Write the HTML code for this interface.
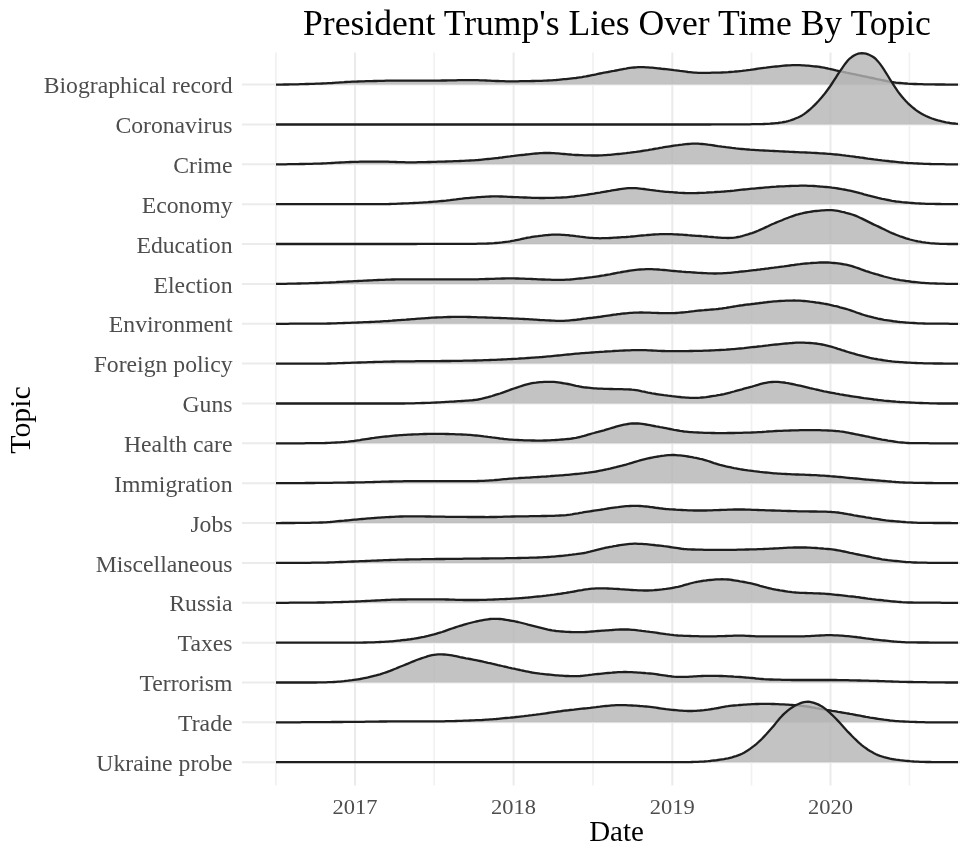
<!DOCTYPE html>
<html><head><meta charset="utf-8"><style>
html,body{margin:0;padding:0;background:#fff;width:960px;height:859px;overflow:hidden}
svg{display:block;will-change:transform}
text{font-family:"Liberation Serif",serif}
</style></head><body>
<svg width="960" height="859" viewBox="0 0 960 859">
<rect width="960" height="859" fill="#fff"/>
<g>
<g stroke="#ebebeb" stroke-width="2"><line x1="242" y1="84.60" x2="960" y2="84.60"/><line x1="242" y1="124.46" x2="960" y2="124.46"/><line x1="242" y1="164.32" x2="960" y2="164.32"/><line x1="242" y1="204.18" x2="960" y2="204.18"/><line x1="242" y1="244.04" x2="960" y2="244.04"/><line x1="242" y1="283.90" x2="960" y2="283.90"/><line x1="242" y1="323.76" x2="960" y2="323.76"/><line x1="242" y1="363.62" x2="960" y2="363.62"/><line x1="242" y1="403.48" x2="960" y2="403.48"/><line x1="242" y1="443.34" x2="960" y2="443.34"/><line x1="242" y1="483.20" x2="960" y2="483.20"/><line x1="242" y1="523.06" x2="960" y2="523.06"/><line x1="242" y1="562.92" x2="960" y2="562.92"/><line x1="242" y1="602.78" x2="960" y2="602.78"/><line x1="242" y1="642.64" x2="960" y2="642.64"/><line x1="242" y1="682.50" x2="960" y2="682.50"/><line x1="242" y1="722.36" x2="960" y2="722.36"/><line x1="242" y1="762.22" x2="960" y2="762.22"/><line x1="355.0" y1="52.5" x2="355.0" y2="785.5"/><line x1="513.6" y1="52.5" x2="513.6" y2="785.5"/><line x1="672.3" y1="52.5" x2="672.3" y2="785.5"/><line x1="830.5" y1="52.5" x2="830.5" y2="785.5"/></g>
<g stroke="#f1f1f1" stroke-width="1.7"><line x1="275.9" y1="52.5" x2="275.9" y2="785.5"/><line x1="434.2" y1="52.5" x2="434.2" y2="785.5"/><line x1="593.0" y1="52.5" x2="593.0" y2="785.5"/><line x1="751.5" y1="52.5" x2="751.5" y2="785.5"/><line x1="909.4" y1="52.5" x2="909.4" y2="785.5"/></g>
<path d="M276.0,84.60 L276,84.6 278,84.6 280,84.6 282,84.6 284,84.5 286,84.5 288,84.5 290,84.4 292,84.4 294,84.4 296,84.3 298,84.3 300,84.2 302,84.2 304,84.1 306,84.0 308,84.0 310,83.9 312,83.9 314,83.8 316,83.7 318,83.7 320,83.6 322,83.5 324,83.4 326,83.3 328,83.2 330,83.1 332,83.0 334,82.8 336,82.7 338,82.6 340,82.4 342,82.3 344,82.2 346,82.0 348,81.9 350,81.8 352,81.7 354,81.6 356,81.6 358,81.5 360,81.4 362,81.4 364,81.3 366,81.2 368,81.2 370,81.1 372,81.1 374,81.0 376,81.0 378,80.9 380,80.9 382,80.8 384,80.8 386,80.7 388,80.7 390,80.7 392,80.7 394,80.6 396,80.6 398,80.6 400,80.6 402,80.6 404,80.6 406,80.6 408,80.6 410,80.6 412,80.6 414,80.6 416,80.6 418,80.6 420,80.6 422,80.6 424,80.6 426,80.6 428,80.6 430,80.6 432,80.6 434,80.6 436,80.6 438,80.6 440,80.6 442,80.5 444,80.5 446,80.5 448,80.4 450,80.4 452,80.4 454,80.3 456,80.3 458,80.2 460,80.2 462,80.2 464,80.1 466,80.1 468,80.1 470,80.1 472,80.1 474,80.1 476,80.2 478,80.2 480,80.3 482,80.4 484,80.4 486,80.5 488,80.6 490,80.7 492,80.8 494,80.9 496,81.0 498,81.0 500,81.1 502,81.2 504,81.2 506,81.3 508,81.3 510,81.3 512,81.3 514,81.3 516,81.3 518,81.3 520,81.2 522,81.2 524,81.2 526,81.1 528,81.1 530,81.1 532,81.0 534,81.0 536,80.9 538,80.9 540,80.8 542,80.8 544,80.7 546,80.6 548,80.5 550,80.4 552,80.3 554,80.1 556,80.0 558,79.8 560,79.6 562,79.4 564,79.2 566,79.1 568,78.8 570,78.6 572,78.4 574,78.2 576,78.0 578,77.7 580,77.4 582,77.1 584,76.7 586,76.4 588,76.0 590,75.6 592,75.2 594,74.8 596,74.4 598,73.9 600,73.5 602,73.1 604,72.7 606,72.3 608,72.0 610,71.6 612,71.2 614,70.9 616,70.5 618,70.1 620,69.7 622,69.3 624,68.9 626,68.6 628,68.2 630,67.9 632,67.7 634,67.5 636,67.3 638,67.2 640,67.2 642,67.2 644,67.2 646,67.3 648,67.4 650,67.6 652,67.7 654,67.9 656,68.1 658,68.3 660,68.5 662,68.8 664,69.0 666,69.2 668,69.4 670,69.6 672,69.8 674,70.1 676,70.3 678,70.6 680,70.9 682,71.1 684,71.4 686,71.7 688,72.0 690,72.2 692,72.4 694,72.6 696,72.7 698,72.8 700,72.8 702,72.8 704,72.8 706,72.8 708,72.8 710,72.8 712,72.7 714,72.7 716,72.7 718,72.6 720,72.6 722,72.5 724,72.4 726,72.3 728,72.2 730,72.0 732,71.8 734,71.7 736,71.5 738,71.3 740,71.1 742,70.9 744,70.6 746,70.4 748,70.1 750,69.9 752,69.6 754,69.3 756,69.0 758,68.7 760,68.4 762,68.1 764,67.8 766,67.6 768,67.3 770,67.1 772,66.9 774,66.7 776,66.5 778,66.3 780,66.1 782,65.9 784,65.7 786,65.5 788,65.4 790,65.3 792,65.2 794,65.1 796,65.1 798,65.2 800,65.2 802,65.3 804,65.4 806,65.6 808,65.7 810,65.9 812,66.1 814,66.3 816,66.5 818,66.7 820,67.0 822,67.3 824,67.7 826,68.1 828,68.5 830,69.0 832,69.4 834,69.9 836,70.4 838,70.8 840,71.3 842,71.7 844,72.1 846,72.5 848,73.0 850,73.4 852,73.8 854,74.2 856,74.6 858,75.0 860,75.5 862,75.9 864,76.3 866,76.7 868,77.2 870,77.6 872,78.0 874,78.4 876,78.9 878,79.3 880,79.7 882,80.1 884,80.5 886,80.9 888,81.3 890,81.6 892,82.0 894,82.3 896,82.6 898,82.8 900,83.0 902,83.2 904,83.4 906,83.5 908,83.7 910,83.8 912,83.9 914,84.0 916,84.0 918,84.1 920,84.2 922,84.2 924,84.3 926,84.3 928,84.4 930,84.4 932,84.4 934,84.4 936,84.5 938,84.5 940,84.5 942,84.5 944,84.5 946,84.6 948,84.6 950,84.6 952,84.6 954,84.6 956,84.6 958,84.6 L957.5,84.60 Z" fill="#b4b4b4" fill-opacity="0.8" stroke="none"/>
<path d="M276,84.6 278,84.6 280,84.6 282,84.6 284,84.5 286,84.5 288,84.5 290,84.4 292,84.4 294,84.4 296,84.3 298,84.3 300,84.2 302,84.2 304,84.1 306,84.0 308,84.0 310,83.9 312,83.9 314,83.8 316,83.7 318,83.7 320,83.6 322,83.5 324,83.4 326,83.3 328,83.2 330,83.1 332,83.0 334,82.8 336,82.7 338,82.6 340,82.4 342,82.3 344,82.2 346,82.0 348,81.9 350,81.8 352,81.7 354,81.6 356,81.6 358,81.5 360,81.4 362,81.4 364,81.3 366,81.2 368,81.2 370,81.1 372,81.1 374,81.0 376,81.0 378,80.9 380,80.9 382,80.8 384,80.8 386,80.7 388,80.7 390,80.7 392,80.7 394,80.6 396,80.6 398,80.6 400,80.6 402,80.6 404,80.6 406,80.6 408,80.6 410,80.6 412,80.6 414,80.6 416,80.6 418,80.6 420,80.6 422,80.6 424,80.6 426,80.6 428,80.6 430,80.6 432,80.6 434,80.6 436,80.6 438,80.6 440,80.6 442,80.5 444,80.5 446,80.5 448,80.4 450,80.4 452,80.4 454,80.3 456,80.3 458,80.2 460,80.2 462,80.2 464,80.1 466,80.1 468,80.1 470,80.1 472,80.1 474,80.1 476,80.2 478,80.2 480,80.3 482,80.4 484,80.4 486,80.5 488,80.6 490,80.7 492,80.8 494,80.9 496,81.0 498,81.0 500,81.1 502,81.2 504,81.2 506,81.3 508,81.3 510,81.3 512,81.3 514,81.3 516,81.3 518,81.3 520,81.2 522,81.2 524,81.2 526,81.1 528,81.1 530,81.1 532,81.0 534,81.0 536,80.9 538,80.9 540,80.8 542,80.8 544,80.7 546,80.6 548,80.5 550,80.4 552,80.3 554,80.1 556,80.0 558,79.8 560,79.6 562,79.4 564,79.2 566,79.1 568,78.8 570,78.6 572,78.4 574,78.2 576,78.0 578,77.7 580,77.4 582,77.1 584,76.7 586,76.4 588,76.0 590,75.6 592,75.2 594,74.8 596,74.4 598,73.9 600,73.5 602,73.1 604,72.7 606,72.3 608,72.0 610,71.6 612,71.2 614,70.9 616,70.5 618,70.1 620,69.7 622,69.3 624,68.9 626,68.6 628,68.2 630,67.9 632,67.7 634,67.5 636,67.3 638,67.2 640,67.2 642,67.2 644,67.2 646,67.3 648,67.4 650,67.6 652,67.7 654,67.9 656,68.1 658,68.3 660,68.5 662,68.8 664,69.0 666,69.2 668,69.4 670,69.6 672,69.8 674,70.1 676,70.3 678,70.6 680,70.9 682,71.1 684,71.4 686,71.7 688,72.0 690,72.2 692,72.4 694,72.6 696,72.7 698,72.8 700,72.8 702,72.8 704,72.8 706,72.8 708,72.8 710,72.8 712,72.7 714,72.7 716,72.7 718,72.6 720,72.6 722,72.5 724,72.4 726,72.3 728,72.2 730,72.0 732,71.8 734,71.7 736,71.5 738,71.3 740,71.1 742,70.9 744,70.6 746,70.4 748,70.1 750,69.9 752,69.6 754,69.3 756,69.0 758,68.7 760,68.4 762,68.1 764,67.8 766,67.6 768,67.3 770,67.1 772,66.9 774,66.7 776,66.5 778,66.3 780,66.1 782,65.9 784,65.7 786,65.5 788,65.4 790,65.3 792,65.2 794,65.1 796,65.1 798,65.2 800,65.2 802,65.3 804,65.4 806,65.6 808,65.7 810,65.9 812,66.1 814,66.3 816,66.5 818,66.7 820,67.0 822,67.3 824,67.7 826,68.1 828,68.5 830,69.0 832,69.4 834,69.9 836,70.4 838,70.8 840,71.3 842,71.7 844,72.1 846,72.5 848,73.0 850,73.4 852,73.8 854,74.2 856,74.6 858,75.0 860,75.5 862,75.9 864,76.3 866,76.7 868,77.2 870,77.6 872,78.0 874,78.4 876,78.9 878,79.3 880,79.7 882,80.1 884,80.5 886,80.9 888,81.3 890,81.6 892,82.0 894,82.3 896,82.6 898,82.8 900,83.0 902,83.2 904,83.4 906,83.5 908,83.7 910,83.8 912,83.9 914,84.0 916,84.0 918,84.1 920,84.2 922,84.2 924,84.3 926,84.3 928,84.4 930,84.4 932,84.4 934,84.4 936,84.5 938,84.5 940,84.5 942,84.5 944,84.5 946,84.6 948,84.6 950,84.6 952,84.6 954,84.6 956,84.6 958,84.6" fill="none" stroke="#1e1e1e" stroke-width="2.3" stroke-linejoin="round"/>
<path d="M276.0,124.46 L276,124.5 278,124.5 280,124.5 282,124.5 284,124.5 286,124.5 288,124.5 290,124.5 292,124.5 294,124.5 296,124.5 298,124.5 300,124.5 302,124.5 304,124.5 306,124.5 308,124.5 310,124.5 312,124.5 314,124.5 316,124.5 318,124.5 320,124.5 322,124.5 324,124.5 326,124.5 328,124.5 330,124.5 332,124.5 334,124.5 336,124.5 338,124.5 340,124.5 342,124.5 344,124.5 346,124.5 348,124.5 350,124.5 352,124.5 354,124.5 356,124.5 358,124.5 360,124.5 362,124.5 364,124.5 366,124.5 368,124.5 370,124.5 372,124.5 374,124.5 376,124.5 378,124.5 380,124.5 382,124.5 384,124.5 386,124.5 388,124.5 390,124.5 392,124.5 394,124.5 396,124.5 398,124.5 400,124.5 402,124.5 404,124.5 406,124.5 408,124.5 410,124.5 412,124.5 414,124.5 416,124.5 418,124.5 420,124.5 422,124.5 424,124.5 426,124.5 428,124.5 430,124.5 432,124.5 434,124.5 436,124.5 438,124.5 440,124.5 442,124.5 444,124.5 446,124.5 448,124.5 450,124.5 452,124.5 454,124.5 456,124.5 458,124.5 460,124.5 462,124.5 464,124.5 466,124.5 468,124.5 470,124.5 472,124.5 474,124.5 476,124.5 478,124.5 480,124.5 482,124.5 484,124.5 486,124.5 488,124.5 490,124.5 492,124.5 494,124.5 496,124.5 498,124.5 500,124.5 502,124.5 504,124.5 506,124.5 508,124.5 510,124.5 512,124.5 514,124.5 516,124.5 518,124.5 520,124.5 522,124.5 524,124.5 526,124.5 528,124.5 530,124.5 532,124.5 534,124.5 536,124.5 538,124.5 540,124.5 542,124.5 544,124.5 546,124.5 548,124.5 550,124.5 552,124.5 554,124.5 556,124.5 558,124.5 560,124.5 562,124.5 564,124.5 566,124.5 568,124.5 570,124.5 572,124.5 574,124.5 576,124.5 578,124.5 580,124.5 582,124.5 584,124.5 586,124.5 588,124.5 590,124.5 592,124.5 594,124.5 596,124.5 598,124.5 600,124.5 602,124.5 604,124.5 606,124.5 608,124.5 610,124.5 612,124.5 614,124.5 616,124.5 618,124.5 620,124.5 622,124.5 624,124.5 626,124.5 628,124.5 630,124.5 632,124.5 634,124.5 636,124.5 638,124.5 640,124.5 642,124.5 644,124.5 646,124.5 648,124.5 650,124.5 652,124.5 654,124.5 656,124.5 658,124.5 660,124.5 662,124.5 664,124.5 666,124.5 668,124.5 670,124.5 672,124.5 674,124.5 676,124.5 678,124.5 680,124.5 682,124.5 684,124.5 686,124.5 688,124.5 690,124.5 692,124.5 694,124.5 696,124.5 698,124.5 700,124.5 702,124.5 704,124.5 706,124.5 708,124.5 710,124.5 712,124.4 714,124.4 716,124.4 718,124.4 720,124.4 722,124.4 724,124.4 726,124.4 728,124.4 730,124.4 732,124.4 734,124.4 736,124.4 738,124.3 740,124.3 742,124.3 744,124.3 746,124.3 748,124.3 750,124.3 752,124.2 754,124.2 756,124.2 758,124.2 760,124.1 762,124.1 764,124.0 766,123.9 768,123.8 770,123.7 772,123.5 774,123.4 776,123.2 778,123.0 780,122.7 782,122.4 784,122.0 786,121.6 788,121.1 790,120.5 792,119.8 794,119.1 796,118.3 798,117.5 800,116.5 802,115.4 804,114.1 806,112.6 808,111.0 810,109.3 812,107.5 814,105.6 816,103.6 818,101.5 820,99.3 822,97.0 824,94.6 826,92.0 828,89.3 830,86.5 832,83.5 834,80.4 836,77.3 838,74.2 840,71.2 842,68.3 844,65.4 846,62.7 848,60.3 850,58.3 852,56.8 854,55.5 856,54.5 858,53.7 860,53.3 862,53.1 864,53.3 866,53.7 868,54.3 870,55.2 872,56.2 874,57.5 876,59.2 878,61.4 880,63.9 882,66.7 884,69.7 886,72.8 888,76.0 890,79.3 892,82.5 894,85.7 896,88.7 898,91.6 900,94.2 902,96.7 904,99.1 906,101.3 908,103.3 910,105.1 912,106.9 914,108.5 916,110.1 918,111.5 920,112.8 922,113.9 924,115.0 926,116.0 928,116.9 930,117.7 932,118.5 934,119.2 936,119.8 938,120.4 940,120.9 942,121.4 944,121.8 946,122.3 948,122.6 950,123.0 952,123.3 954,123.5 956,123.7 958,123.8 L957.5,124.46 Z" fill="#b4b4b4" fill-opacity="0.8" stroke="none"/>
<path d="M276,124.5 278,124.5 280,124.5 282,124.5 284,124.5 286,124.5 288,124.5 290,124.5 292,124.5 294,124.5 296,124.5 298,124.5 300,124.5 302,124.5 304,124.5 306,124.5 308,124.5 310,124.5 312,124.5 314,124.5 316,124.5 318,124.5 320,124.5 322,124.5 324,124.5 326,124.5 328,124.5 330,124.5 332,124.5 334,124.5 336,124.5 338,124.5 340,124.5 342,124.5 344,124.5 346,124.5 348,124.5 350,124.5 352,124.5 354,124.5 356,124.5 358,124.5 360,124.5 362,124.5 364,124.5 366,124.5 368,124.5 370,124.5 372,124.5 374,124.5 376,124.5 378,124.5 380,124.5 382,124.5 384,124.5 386,124.5 388,124.5 390,124.5 392,124.5 394,124.5 396,124.5 398,124.5 400,124.5 402,124.5 404,124.5 406,124.5 408,124.5 410,124.5 412,124.5 414,124.5 416,124.5 418,124.5 420,124.5 422,124.5 424,124.5 426,124.5 428,124.5 430,124.5 432,124.5 434,124.5 436,124.5 438,124.5 440,124.5 442,124.5 444,124.5 446,124.5 448,124.5 450,124.5 452,124.5 454,124.5 456,124.5 458,124.5 460,124.5 462,124.5 464,124.5 466,124.5 468,124.5 470,124.5 472,124.5 474,124.5 476,124.5 478,124.5 480,124.5 482,124.5 484,124.5 486,124.5 488,124.5 490,124.5 492,124.5 494,124.5 496,124.5 498,124.5 500,124.5 502,124.5 504,124.5 506,124.5 508,124.5 510,124.5 512,124.5 514,124.5 516,124.5 518,124.5 520,124.5 522,124.5 524,124.5 526,124.5 528,124.5 530,124.5 532,124.5 534,124.5 536,124.5 538,124.5 540,124.5 542,124.5 544,124.5 546,124.5 548,124.5 550,124.5 552,124.5 554,124.5 556,124.5 558,124.5 560,124.5 562,124.5 564,124.5 566,124.5 568,124.5 570,124.5 572,124.5 574,124.5 576,124.5 578,124.5 580,124.5 582,124.5 584,124.5 586,124.5 588,124.5 590,124.5 592,124.5 594,124.5 596,124.5 598,124.5 600,124.5 602,124.5 604,124.5 606,124.5 608,124.5 610,124.5 612,124.5 614,124.5 616,124.5 618,124.5 620,124.5 622,124.5 624,124.5 626,124.5 628,124.5 630,124.5 632,124.5 634,124.5 636,124.5 638,124.5 640,124.5 642,124.5 644,124.5 646,124.5 648,124.5 650,124.5 652,124.5 654,124.5 656,124.5 658,124.5 660,124.5 662,124.5 664,124.5 666,124.5 668,124.5 670,124.5 672,124.5 674,124.5 676,124.5 678,124.5 680,124.5 682,124.5 684,124.5 686,124.5 688,124.5 690,124.5 692,124.5 694,124.5 696,124.5 698,124.5 700,124.5 702,124.5 704,124.5 706,124.5 708,124.5 710,124.5 712,124.4 714,124.4 716,124.4 718,124.4 720,124.4 722,124.4 724,124.4 726,124.4 728,124.4 730,124.4 732,124.4 734,124.4 736,124.4 738,124.3 740,124.3 742,124.3 744,124.3 746,124.3 748,124.3 750,124.3 752,124.2 754,124.2 756,124.2 758,124.2 760,124.1 762,124.1 764,124.0 766,123.9 768,123.8 770,123.7 772,123.5 774,123.4 776,123.2 778,123.0 780,122.7 782,122.4 784,122.0 786,121.6 788,121.1 790,120.5 792,119.8 794,119.1 796,118.3 798,117.5 800,116.5 802,115.4 804,114.1 806,112.6 808,111.0 810,109.3 812,107.5 814,105.6 816,103.6 818,101.5 820,99.3 822,97.0 824,94.6 826,92.0 828,89.3 830,86.5 832,83.5 834,80.4 836,77.3 838,74.2 840,71.2 842,68.3 844,65.4 846,62.7 848,60.3 850,58.3 852,56.8 854,55.5 856,54.5 858,53.7 860,53.3 862,53.1 864,53.3 866,53.7 868,54.3 870,55.2 872,56.2 874,57.5 876,59.2 878,61.4 880,63.9 882,66.7 884,69.7 886,72.8 888,76.0 890,79.3 892,82.5 894,85.7 896,88.7 898,91.6 900,94.2 902,96.7 904,99.1 906,101.3 908,103.3 910,105.1 912,106.9 914,108.5 916,110.1 918,111.5 920,112.8 922,113.9 924,115.0 926,116.0 928,116.9 930,117.7 932,118.5 934,119.2 936,119.8 938,120.4 940,120.9 942,121.4 944,121.8 946,122.3 948,122.6 950,123.0 952,123.3 954,123.5 956,123.7 958,123.8" fill="none" stroke="#1e1e1e" stroke-width="2.3" stroke-linejoin="round"/>
<path d="M276.0,164.32 L276,164.3 278,164.3 280,164.3 282,164.3 284,164.3 286,164.3 288,164.2 290,164.2 292,164.2 294,164.2 296,164.1 298,164.1 300,164.0 302,164.0 304,164.0 306,163.9 308,163.9 310,163.8 312,163.8 314,163.7 316,163.7 318,163.6 320,163.6 322,163.5 324,163.4 326,163.3 328,163.2 330,163.1 332,163.0 334,162.9 336,162.7 338,162.6 340,162.5 342,162.4 344,162.3 346,162.2 348,162.1 350,162.0 352,161.9 354,161.9 356,161.8 358,161.8 360,161.7 362,161.7 364,161.7 366,161.7 368,161.6 370,161.6 372,161.6 374,161.6 376,161.6 378,161.6 380,161.6 382,161.6 384,161.6 386,161.7 388,161.7 390,161.8 392,161.8 394,161.9 396,162.0 398,162.1 400,162.1 402,162.2 404,162.2 406,162.3 408,162.3 410,162.3 412,162.3 414,162.3 416,162.3 418,162.2 420,162.2 422,162.2 424,162.1 426,162.1 428,162.0 430,162.0 432,161.9 434,161.8 436,161.8 438,161.7 440,161.7 442,161.6 444,161.6 446,161.5 448,161.4 450,161.4 452,161.3 454,161.2 456,161.2 458,161.1 460,161.0 462,160.9 464,160.8 466,160.7 468,160.6 470,160.5 472,160.4 474,160.3 476,160.1 478,160.0 480,159.8 482,159.6 484,159.4 486,159.2 488,159.0 490,158.8 492,158.6 494,158.4 496,158.2 498,158.0 500,157.7 502,157.5 504,157.2 506,156.9 508,156.6 510,156.4 512,156.1 514,155.9 516,155.6 518,155.4 520,155.2 522,155.0 524,154.8 526,154.5 528,154.3 530,154.1 532,153.9 534,153.7 536,153.5 538,153.4 540,153.2 542,153.1 544,153.0 546,153.0 548,153.0 550,153.0 552,153.1 554,153.2 556,153.3 558,153.4 560,153.6 562,153.8 564,154.0 566,154.2 568,154.4 570,154.5 572,154.7 574,154.8 576,155.0 578,155.0 580,155.1 582,155.2 584,155.3 586,155.3 588,155.4 590,155.4 592,155.5 594,155.5 596,155.5 598,155.5 600,155.4 602,155.3 604,155.2 606,155.1 608,154.9 610,154.8 612,154.6 614,154.4 616,154.2 618,154.0 620,153.8 622,153.6 624,153.4 626,153.2 628,152.9 630,152.7 632,152.4 634,152.1 636,151.9 638,151.6 640,151.3 642,151.0 644,150.7 646,150.4 648,150.1 650,149.7 652,149.4 654,149.0 656,148.6 658,148.3 660,147.9 662,147.6 664,147.2 666,146.9 668,146.6 670,146.3 672,146.0 674,145.7 676,145.4 678,145.2 680,144.9 682,144.7 684,144.4 686,144.2 688,144.0 690,143.8 692,143.7 694,143.6 696,143.6 698,143.7 700,143.8 702,144.0 704,144.2 706,144.4 708,144.7 710,144.9 712,145.2 714,145.5 716,145.8 718,146.1 720,146.3 722,146.6 724,146.8 726,147.1 728,147.3 730,147.6 732,147.9 734,148.1 736,148.4 738,148.6 740,148.8 742,149.0 744,149.2 746,149.4 748,149.5 750,149.7 752,149.8 754,149.9 756,150.1 758,150.2 760,150.3 762,150.4 764,150.5 766,150.6 768,150.7 770,150.8 772,150.9 774,151.0 776,151.1 778,151.2 780,151.3 782,151.4 784,151.5 786,151.6 788,151.7 790,151.8 792,151.9 794,152.0 796,152.1 798,152.2 800,152.3 802,152.4 804,152.4 806,152.5 808,152.6 810,152.7 812,152.8 814,152.9 816,153.0 818,153.1 820,153.3 822,153.4 824,153.5 826,153.6 828,153.8 830,153.9 832,154.1 834,154.3 836,154.5 838,154.7 840,154.9 842,155.2 844,155.4 846,155.7 848,155.9 850,156.2 852,156.4 854,156.7 856,157.0 858,157.2 860,157.5 862,157.7 864,158.0 866,158.3 868,158.6 870,158.8 872,159.1 874,159.4 876,159.6 878,159.9 880,160.1 882,160.4 884,160.6 886,160.8 888,161.0 890,161.3 892,161.5 894,161.7 896,161.9 898,162.1 900,162.3 902,162.5 904,162.7 906,162.8 908,163.0 910,163.1 912,163.2 914,163.3 916,163.4 918,163.5 920,163.6 922,163.7 924,163.8 926,163.9 928,163.9 930,164.0 932,164.1 934,164.1 936,164.1 938,164.2 940,164.2 942,164.2 944,164.2 946,164.3 948,164.3 950,164.3 952,164.3 954,164.3 956,164.3 958,164.3 L957.5,164.32 Z" fill="#b4b4b4" fill-opacity="0.8" stroke="none"/>
<path d="M276,164.3 278,164.3 280,164.3 282,164.3 284,164.3 286,164.3 288,164.2 290,164.2 292,164.2 294,164.2 296,164.1 298,164.1 300,164.0 302,164.0 304,164.0 306,163.9 308,163.9 310,163.8 312,163.8 314,163.7 316,163.7 318,163.6 320,163.6 322,163.5 324,163.4 326,163.3 328,163.2 330,163.1 332,163.0 334,162.9 336,162.7 338,162.6 340,162.5 342,162.4 344,162.3 346,162.2 348,162.1 350,162.0 352,161.9 354,161.9 356,161.8 358,161.8 360,161.7 362,161.7 364,161.7 366,161.7 368,161.6 370,161.6 372,161.6 374,161.6 376,161.6 378,161.6 380,161.6 382,161.6 384,161.6 386,161.7 388,161.7 390,161.8 392,161.8 394,161.9 396,162.0 398,162.1 400,162.1 402,162.2 404,162.2 406,162.3 408,162.3 410,162.3 412,162.3 414,162.3 416,162.3 418,162.2 420,162.2 422,162.2 424,162.1 426,162.1 428,162.0 430,162.0 432,161.9 434,161.8 436,161.8 438,161.7 440,161.7 442,161.6 444,161.6 446,161.5 448,161.4 450,161.4 452,161.3 454,161.2 456,161.2 458,161.1 460,161.0 462,160.9 464,160.8 466,160.7 468,160.6 470,160.5 472,160.4 474,160.3 476,160.1 478,160.0 480,159.8 482,159.6 484,159.4 486,159.2 488,159.0 490,158.8 492,158.6 494,158.4 496,158.2 498,158.0 500,157.7 502,157.5 504,157.2 506,156.9 508,156.6 510,156.4 512,156.1 514,155.9 516,155.6 518,155.4 520,155.2 522,155.0 524,154.8 526,154.5 528,154.3 530,154.1 532,153.9 534,153.7 536,153.5 538,153.4 540,153.2 542,153.1 544,153.0 546,153.0 548,153.0 550,153.0 552,153.1 554,153.2 556,153.3 558,153.4 560,153.6 562,153.8 564,154.0 566,154.2 568,154.4 570,154.5 572,154.7 574,154.8 576,155.0 578,155.0 580,155.1 582,155.2 584,155.3 586,155.3 588,155.4 590,155.4 592,155.5 594,155.5 596,155.5 598,155.5 600,155.4 602,155.3 604,155.2 606,155.1 608,154.9 610,154.8 612,154.6 614,154.4 616,154.2 618,154.0 620,153.8 622,153.6 624,153.4 626,153.2 628,152.9 630,152.7 632,152.4 634,152.1 636,151.9 638,151.6 640,151.3 642,151.0 644,150.7 646,150.4 648,150.1 650,149.7 652,149.4 654,149.0 656,148.6 658,148.3 660,147.9 662,147.6 664,147.2 666,146.9 668,146.6 670,146.3 672,146.0 674,145.7 676,145.4 678,145.2 680,144.9 682,144.7 684,144.4 686,144.2 688,144.0 690,143.8 692,143.7 694,143.6 696,143.6 698,143.7 700,143.8 702,144.0 704,144.2 706,144.4 708,144.7 710,144.9 712,145.2 714,145.5 716,145.8 718,146.1 720,146.3 722,146.6 724,146.8 726,147.1 728,147.3 730,147.6 732,147.9 734,148.1 736,148.4 738,148.6 740,148.8 742,149.0 744,149.2 746,149.4 748,149.5 750,149.7 752,149.8 754,149.9 756,150.1 758,150.2 760,150.3 762,150.4 764,150.5 766,150.6 768,150.7 770,150.8 772,150.9 774,151.0 776,151.1 778,151.2 780,151.3 782,151.4 784,151.5 786,151.6 788,151.7 790,151.8 792,151.9 794,152.0 796,152.1 798,152.2 800,152.3 802,152.4 804,152.4 806,152.5 808,152.6 810,152.7 812,152.8 814,152.9 816,153.0 818,153.1 820,153.3 822,153.4 824,153.5 826,153.6 828,153.8 830,153.9 832,154.1 834,154.3 836,154.5 838,154.7 840,154.9 842,155.2 844,155.4 846,155.7 848,155.9 850,156.2 852,156.4 854,156.7 856,157.0 858,157.2 860,157.5 862,157.7 864,158.0 866,158.3 868,158.6 870,158.8 872,159.1 874,159.4 876,159.6 878,159.9 880,160.1 882,160.4 884,160.6 886,160.8 888,161.0 890,161.3 892,161.5 894,161.7 896,161.9 898,162.1 900,162.3 902,162.5 904,162.7 906,162.8 908,163.0 910,163.1 912,163.2 914,163.3 916,163.4 918,163.5 920,163.6 922,163.7 924,163.8 926,163.9 928,163.9 930,164.0 932,164.1 934,164.1 936,164.1 938,164.2 940,164.2 942,164.2 944,164.2 946,164.3 948,164.3 950,164.3 952,164.3 954,164.3 956,164.3 958,164.3" fill="none" stroke="#1e1e1e" stroke-width="2.3" stroke-linejoin="round"/>
<path d="M276.0,204.18 L276,204.2 278,204.2 280,204.2 282,204.2 284,204.2 286,204.2 288,204.2 290,204.2 292,204.2 294,204.2 296,204.2 298,204.2 300,204.2 302,204.2 304,204.2 306,204.2 308,204.2 310,204.2 312,204.2 314,204.2 316,204.2 318,204.2 320,204.2 322,204.2 324,204.2 326,204.2 328,204.2 330,204.2 332,204.2 334,204.2 336,204.2 338,204.2 340,204.2 342,204.2 344,204.2 346,204.2 348,204.2 350,204.2 352,204.2 354,204.2 356,204.2 358,204.2 360,204.2 362,204.2 364,204.2 366,204.2 368,204.2 370,204.2 372,204.2 374,204.2 376,204.2 378,204.2 380,204.2 382,204.2 384,204.1 386,204.1 388,204.1 390,204.0 392,203.9 394,203.9 396,203.8 398,203.7 400,203.6 402,203.5 404,203.4 406,203.4 408,203.3 410,203.2 412,203.1 414,203.0 416,202.9 418,202.8 420,202.7 422,202.6 424,202.4 426,202.3 428,202.2 430,202.0 432,201.9 434,201.7 436,201.6 438,201.4 440,201.2 442,201.0 444,200.8 446,200.6 448,200.3 450,200.1 452,199.8 454,199.6 456,199.4 458,199.1 460,198.9 462,198.7 464,198.4 466,198.2 468,198.1 470,197.9 472,197.7 474,197.6 476,197.4 478,197.2 480,197.1 482,196.9 484,196.8 486,196.7 488,196.6 490,196.5 492,196.4 494,196.4 496,196.4 498,196.4 500,196.5 502,196.5 504,196.6 506,196.7 508,196.8 510,196.9 512,197.0 514,197.1 516,197.1 518,197.2 520,197.3 522,197.4 524,197.5 526,197.5 528,197.6 530,197.7 532,197.8 534,197.8 536,197.9 538,197.9 540,198.0 542,198.0 544,198.0 546,197.9 548,197.9 550,197.9 552,197.8 554,197.8 556,197.7 558,197.7 560,197.6 562,197.5 564,197.4 566,197.3 568,197.1 570,196.9 572,196.7 574,196.5 576,196.2 578,195.9 580,195.7 582,195.4 584,195.1 586,194.8 588,194.5 590,194.2 592,193.9 594,193.6 596,193.2 598,192.9 600,192.6 602,192.2 604,191.8 606,191.5 608,191.1 610,190.8 612,190.4 614,190.1 616,189.8 618,189.5 620,189.2 622,188.9 624,188.6 626,188.4 628,188.2 630,188.1 632,188.1 634,188.1 636,188.2 638,188.4 640,188.6 642,188.8 644,189.0 646,189.3 648,189.6 650,189.9 652,190.1 654,190.4 656,190.7 658,190.9 660,191.2 662,191.4 664,191.6 666,191.8 668,191.9 670,192.1 672,192.2 674,192.4 676,192.5 678,192.7 680,192.8 682,192.9 684,193.0 686,193.1 688,193.1 690,193.2 692,193.1 694,193.1 696,193.1 698,193.0 700,192.9 702,192.9 704,192.8 706,192.7 708,192.5 710,192.4 712,192.3 714,192.2 716,192.0 718,191.9 720,191.8 722,191.6 724,191.5 726,191.3 728,191.1 730,191.0 732,190.8 734,190.6 736,190.3 738,190.1 740,189.9 742,189.7 744,189.5 746,189.3 748,189.1 750,188.9 752,188.7 754,188.6 756,188.4 758,188.2 760,188.0 762,187.8 764,187.6 766,187.4 768,187.3 770,187.1 772,186.9 774,186.8 776,186.7 778,186.5 780,186.4 782,186.3 784,186.3 786,186.2 788,186.1 790,186.0 792,185.9 794,185.9 796,185.8 798,185.8 800,185.7 802,185.7 804,185.7 806,185.7 808,185.8 810,185.8 812,185.9 814,186.0 816,186.1 818,186.3 820,186.5 822,186.6 824,186.8 826,187.0 828,187.2 830,187.4 832,187.7 834,187.9 836,188.2 838,188.5 840,188.8 842,189.2 844,189.5 846,189.9 848,190.3 850,190.7 852,191.1 854,191.6 856,192.1 858,192.6 860,193.2 862,193.7 864,194.3 866,194.8 868,195.4 870,195.9 872,196.4 874,196.9 876,197.4 878,197.9 880,198.3 882,198.8 884,199.2 886,199.6 888,200.0 890,200.4 892,200.8 894,201.1 896,201.5 898,201.7 900,201.9 902,202.2 904,202.3 906,202.5 908,202.7 910,202.9 912,203.0 914,203.1 916,203.3 918,203.4 920,203.5 922,203.6 924,203.7 926,203.8 928,203.8 930,203.9 932,203.9 934,203.9 936,204.0 938,204.0 940,204.0 942,204.1 944,204.1 946,204.1 948,204.1 950,204.1 952,204.2 954,204.2 956,204.2 958,204.2 L957.5,204.18 Z" fill="#b4b4b4" fill-opacity="0.8" stroke="none"/>
<path d="M276,204.2 278,204.2 280,204.2 282,204.2 284,204.2 286,204.2 288,204.2 290,204.2 292,204.2 294,204.2 296,204.2 298,204.2 300,204.2 302,204.2 304,204.2 306,204.2 308,204.2 310,204.2 312,204.2 314,204.2 316,204.2 318,204.2 320,204.2 322,204.2 324,204.2 326,204.2 328,204.2 330,204.2 332,204.2 334,204.2 336,204.2 338,204.2 340,204.2 342,204.2 344,204.2 346,204.2 348,204.2 350,204.2 352,204.2 354,204.2 356,204.2 358,204.2 360,204.2 362,204.2 364,204.2 366,204.2 368,204.2 370,204.2 372,204.2 374,204.2 376,204.2 378,204.2 380,204.2 382,204.2 384,204.1 386,204.1 388,204.1 390,204.0 392,203.9 394,203.9 396,203.8 398,203.7 400,203.6 402,203.5 404,203.4 406,203.4 408,203.3 410,203.2 412,203.1 414,203.0 416,202.9 418,202.8 420,202.7 422,202.6 424,202.4 426,202.3 428,202.2 430,202.0 432,201.9 434,201.7 436,201.6 438,201.4 440,201.2 442,201.0 444,200.8 446,200.6 448,200.3 450,200.1 452,199.8 454,199.6 456,199.4 458,199.1 460,198.9 462,198.7 464,198.4 466,198.2 468,198.1 470,197.9 472,197.7 474,197.6 476,197.4 478,197.2 480,197.1 482,196.9 484,196.8 486,196.7 488,196.6 490,196.5 492,196.4 494,196.4 496,196.4 498,196.4 500,196.5 502,196.5 504,196.6 506,196.7 508,196.8 510,196.9 512,197.0 514,197.1 516,197.1 518,197.2 520,197.3 522,197.4 524,197.5 526,197.5 528,197.6 530,197.7 532,197.8 534,197.8 536,197.9 538,197.9 540,198.0 542,198.0 544,198.0 546,197.9 548,197.9 550,197.9 552,197.8 554,197.8 556,197.7 558,197.7 560,197.6 562,197.5 564,197.4 566,197.3 568,197.1 570,196.9 572,196.7 574,196.5 576,196.2 578,195.9 580,195.7 582,195.4 584,195.1 586,194.8 588,194.5 590,194.2 592,193.9 594,193.6 596,193.2 598,192.9 600,192.6 602,192.2 604,191.8 606,191.5 608,191.1 610,190.8 612,190.4 614,190.1 616,189.8 618,189.5 620,189.2 622,188.9 624,188.6 626,188.4 628,188.2 630,188.1 632,188.1 634,188.1 636,188.2 638,188.4 640,188.6 642,188.8 644,189.0 646,189.3 648,189.6 650,189.9 652,190.1 654,190.4 656,190.7 658,190.9 660,191.2 662,191.4 664,191.6 666,191.8 668,191.9 670,192.1 672,192.2 674,192.4 676,192.5 678,192.7 680,192.8 682,192.9 684,193.0 686,193.1 688,193.1 690,193.2 692,193.1 694,193.1 696,193.1 698,193.0 700,192.9 702,192.9 704,192.8 706,192.7 708,192.5 710,192.4 712,192.3 714,192.2 716,192.0 718,191.9 720,191.8 722,191.6 724,191.5 726,191.3 728,191.1 730,191.0 732,190.8 734,190.6 736,190.3 738,190.1 740,189.9 742,189.7 744,189.5 746,189.3 748,189.1 750,188.9 752,188.7 754,188.6 756,188.4 758,188.2 760,188.0 762,187.8 764,187.6 766,187.4 768,187.3 770,187.1 772,186.9 774,186.8 776,186.7 778,186.5 780,186.4 782,186.3 784,186.3 786,186.2 788,186.1 790,186.0 792,185.9 794,185.9 796,185.8 798,185.8 800,185.7 802,185.7 804,185.7 806,185.7 808,185.8 810,185.8 812,185.9 814,186.0 816,186.1 818,186.3 820,186.5 822,186.6 824,186.8 826,187.0 828,187.2 830,187.4 832,187.7 834,187.9 836,188.2 838,188.5 840,188.8 842,189.2 844,189.5 846,189.9 848,190.3 850,190.7 852,191.1 854,191.6 856,192.1 858,192.6 860,193.2 862,193.7 864,194.3 866,194.8 868,195.4 870,195.9 872,196.4 874,196.9 876,197.4 878,197.9 880,198.3 882,198.8 884,199.2 886,199.6 888,200.0 890,200.4 892,200.8 894,201.1 896,201.5 898,201.7 900,201.9 902,202.2 904,202.3 906,202.5 908,202.7 910,202.9 912,203.0 914,203.1 916,203.3 918,203.4 920,203.5 922,203.6 924,203.7 926,203.8 928,203.8 930,203.9 932,203.9 934,203.9 936,204.0 938,204.0 940,204.0 942,204.1 944,204.1 946,204.1 948,204.1 950,204.1 952,204.2 954,204.2 956,204.2 958,204.2" fill="none" stroke="#1e1e1e" stroke-width="2.3" stroke-linejoin="round"/>
<path d="M276.0,244.04 L276,244.0 278,244.0 280,244.0 282,244.0 284,244.0 286,244.0 288,244.0 290,244.0 292,244.0 294,244.0 296,244.0 298,244.0 300,244.0 302,244.0 304,244.0 306,244.0 308,244.0 310,244.0 312,244.0 314,244.0 316,244.0 318,244.0 320,244.0 322,244.0 324,244.0 326,244.0 328,244.0 330,244.0 332,244.0 334,244.0 336,244.0 338,244.0 340,244.0 342,244.0 344,244.0 346,244.0 348,244.0 350,244.0 352,244.0 354,244.0 356,244.0 358,244.0 360,244.0 362,244.0 364,244.0 366,244.0 368,244.0 370,244.0 372,244.0 374,244.0 376,244.0 378,244.0 380,244.0 382,244.0 384,244.0 386,244.0 388,244.0 390,244.0 392,244.0 394,244.0 396,244.0 398,244.0 400,244.0 402,244.0 404,244.0 406,244.0 408,244.0 410,244.0 412,244.0 414,244.0 416,244.0 418,243.9 420,243.9 422,243.9 424,243.9 426,243.9 428,243.9 430,243.9 432,243.9 434,243.9 436,243.9 438,243.9 440,243.9 442,243.9 444,243.9 446,243.9 448,243.9 450,243.9 452,243.9 454,243.9 456,243.9 458,243.9 460,243.9 462,243.9 464,243.9 466,243.8 468,243.8 470,243.8 472,243.8 474,243.8 476,243.8 478,243.7 480,243.7 482,243.7 484,243.6 486,243.6 488,243.5 490,243.4 492,243.3 494,243.2 496,243.0 498,242.8 500,242.6 502,242.4 504,242.1 506,241.8 508,241.6 510,241.3 512,240.9 514,240.6 516,240.2 518,239.8 520,239.4 522,238.9 524,238.5 526,238.0 528,237.6 530,237.3 532,236.9 534,236.6 536,236.3 538,236.1 540,235.8 542,235.6 544,235.3 546,235.1 548,235.0 550,234.8 552,234.7 554,234.6 556,234.6 558,234.6 560,234.7 562,234.8 564,234.9 566,235.1 568,235.2 570,235.5 572,235.7 574,235.9 576,236.2 578,236.4 580,236.7 582,236.9 584,237.1 586,237.4 588,237.6 590,237.8 592,237.9 594,238.1 596,238.2 598,238.2 600,238.3 602,238.2 604,238.2 606,238.2 608,238.1 610,238.0 612,237.9 614,237.7 616,237.6 618,237.5 620,237.4 622,237.2 624,237.1 626,237.0 628,236.8 630,236.7 632,236.5 634,236.3 636,236.1 638,235.9 640,235.7 642,235.5 644,235.3 646,235.2 648,235.0 650,234.8 652,234.6 654,234.5 656,234.4 658,234.3 660,234.2 662,234.1 664,234.1 666,234.1 668,234.1 670,234.1 672,234.2 674,234.3 676,234.4 678,234.5 680,234.6 682,234.7 684,234.9 686,235.0 688,235.2 690,235.3 692,235.5 694,235.6 696,235.8 698,235.9 700,236.0 702,236.2 704,236.3 706,236.5 708,236.7 710,236.8 712,237.0 714,237.2 716,237.3 718,237.5 720,237.6 722,237.8 724,237.9 726,237.9 728,238.0 730,237.9 732,237.9 734,237.7 736,237.4 738,237.0 740,236.6 742,236.1 744,235.5 746,234.9 748,234.4 750,233.7 752,233.1 754,232.4 756,231.6 758,230.8 760,229.9 762,229.0 764,228.1 766,227.1 768,226.2 770,225.2 772,224.3 774,223.5 776,222.6 778,221.8 780,221.0 782,220.2 784,219.3 786,218.5 788,217.8 790,217.0 792,216.3 794,215.6 796,214.9 798,214.4 800,213.8 802,213.4 804,212.9 806,212.5 808,212.1 810,211.8 812,211.5 814,211.2 816,211.0 818,210.8 820,210.6 822,210.4 824,210.3 826,210.2 828,210.1 830,210.1 832,210.2 834,210.4 836,210.6 838,210.9 840,211.3 842,211.8 844,212.2 846,212.8 848,213.3 850,213.8 852,214.5 854,215.2 856,215.9 858,216.8 860,217.7 862,218.6 864,219.6 866,220.6 868,221.6 870,222.6 872,223.6 874,224.6 876,225.5 878,226.4 880,227.4 882,228.4 884,229.3 886,230.3 888,231.2 890,232.2 892,233.1 894,233.9 896,234.7 898,235.5 900,236.3 902,236.9 904,237.6 906,238.3 908,238.9 910,239.5 912,240.0 914,240.5 916,241.0 918,241.4 920,241.7 922,242.1 924,242.3 926,242.6 928,242.8 930,243.1 932,243.3 934,243.4 936,243.6 938,243.7 940,243.8 942,243.8 944,243.9 946,243.9 948,244.0 950,244.0 952,244.0 954,244.0 956,244.0 958,244.0 L957.5,244.04 Z" fill="#b4b4b4" fill-opacity="0.8" stroke="none"/>
<path d="M276,244.0 278,244.0 280,244.0 282,244.0 284,244.0 286,244.0 288,244.0 290,244.0 292,244.0 294,244.0 296,244.0 298,244.0 300,244.0 302,244.0 304,244.0 306,244.0 308,244.0 310,244.0 312,244.0 314,244.0 316,244.0 318,244.0 320,244.0 322,244.0 324,244.0 326,244.0 328,244.0 330,244.0 332,244.0 334,244.0 336,244.0 338,244.0 340,244.0 342,244.0 344,244.0 346,244.0 348,244.0 350,244.0 352,244.0 354,244.0 356,244.0 358,244.0 360,244.0 362,244.0 364,244.0 366,244.0 368,244.0 370,244.0 372,244.0 374,244.0 376,244.0 378,244.0 380,244.0 382,244.0 384,244.0 386,244.0 388,244.0 390,244.0 392,244.0 394,244.0 396,244.0 398,244.0 400,244.0 402,244.0 404,244.0 406,244.0 408,244.0 410,244.0 412,244.0 414,244.0 416,244.0 418,243.9 420,243.9 422,243.9 424,243.9 426,243.9 428,243.9 430,243.9 432,243.9 434,243.9 436,243.9 438,243.9 440,243.9 442,243.9 444,243.9 446,243.9 448,243.9 450,243.9 452,243.9 454,243.9 456,243.9 458,243.9 460,243.9 462,243.9 464,243.9 466,243.8 468,243.8 470,243.8 472,243.8 474,243.8 476,243.8 478,243.7 480,243.7 482,243.7 484,243.6 486,243.6 488,243.5 490,243.4 492,243.3 494,243.2 496,243.0 498,242.8 500,242.6 502,242.4 504,242.1 506,241.8 508,241.6 510,241.3 512,240.9 514,240.6 516,240.2 518,239.8 520,239.4 522,238.9 524,238.5 526,238.0 528,237.6 530,237.3 532,236.9 534,236.6 536,236.3 538,236.1 540,235.8 542,235.6 544,235.3 546,235.1 548,235.0 550,234.8 552,234.7 554,234.6 556,234.6 558,234.6 560,234.7 562,234.8 564,234.9 566,235.1 568,235.2 570,235.5 572,235.7 574,235.9 576,236.2 578,236.4 580,236.7 582,236.9 584,237.1 586,237.4 588,237.6 590,237.8 592,237.9 594,238.1 596,238.2 598,238.2 600,238.3 602,238.2 604,238.2 606,238.2 608,238.1 610,238.0 612,237.9 614,237.7 616,237.6 618,237.5 620,237.4 622,237.2 624,237.1 626,237.0 628,236.8 630,236.7 632,236.5 634,236.3 636,236.1 638,235.9 640,235.7 642,235.5 644,235.3 646,235.2 648,235.0 650,234.8 652,234.6 654,234.5 656,234.4 658,234.3 660,234.2 662,234.1 664,234.1 666,234.1 668,234.1 670,234.1 672,234.2 674,234.3 676,234.4 678,234.5 680,234.6 682,234.7 684,234.9 686,235.0 688,235.2 690,235.3 692,235.5 694,235.6 696,235.8 698,235.9 700,236.0 702,236.2 704,236.3 706,236.5 708,236.7 710,236.8 712,237.0 714,237.2 716,237.3 718,237.5 720,237.6 722,237.8 724,237.9 726,237.9 728,238.0 730,237.9 732,237.9 734,237.7 736,237.4 738,237.0 740,236.6 742,236.1 744,235.5 746,234.9 748,234.4 750,233.7 752,233.1 754,232.4 756,231.6 758,230.8 760,229.9 762,229.0 764,228.1 766,227.1 768,226.2 770,225.2 772,224.3 774,223.5 776,222.6 778,221.8 780,221.0 782,220.2 784,219.3 786,218.5 788,217.8 790,217.0 792,216.3 794,215.6 796,214.9 798,214.4 800,213.8 802,213.4 804,212.9 806,212.5 808,212.1 810,211.8 812,211.5 814,211.2 816,211.0 818,210.8 820,210.6 822,210.4 824,210.3 826,210.2 828,210.1 830,210.1 832,210.2 834,210.4 836,210.6 838,210.9 840,211.3 842,211.8 844,212.2 846,212.8 848,213.3 850,213.8 852,214.5 854,215.2 856,215.9 858,216.8 860,217.7 862,218.6 864,219.6 866,220.6 868,221.6 870,222.6 872,223.6 874,224.6 876,225.5 878,226.4 880,227.4 882,228.4 884,229.3 886,230.3 888,231.2 890,232.2 892,233.1 894,233.9 896,234.7 898,235.5 900,236.3 902,236.9 904,237.6 906,238.3 908,238.9 910,239.5 912,240.0 914,240.5 916,241.0 918,241.4 920,241.7 922,242.1 924,242.3 926,242.6 928,242.8 930,243.1 932,243.3 934,243.4 936,243.6 938,243.7 940,243.8 942,243.8 944,243.9 946,243.9 948,244.0 950,244.0 952,244.0 954,244.0 956,244.0 958,244.0" fill="none" stroke="#1e1e1e" stroke-width="2.3" stroke-linejoin="round"/>
<path d="M276.0,283.90 L276,283.9 278,283.9 280,283.9 282,283.8 284,283.8 286,283.8 288,283.7 290,283.7 292,283.7 294,283.6 296,283.6 298,283.5 300,283.5 302,283.4 304,283.4 306,283.3 308,283.3 310,283.2 312,283.1 314,283.1 316,283.0 318,283.0 320,282.9 322,282.8 324,282.7 326,282.7 328,282.6 330,282.5 332,282.4 334,282.3 336,282.2 338,282.0 340,281.9 342,281.8 344,281.7 346,281.6 348,281.5 350,281.4 352,281.3 354,281.2 356,281.1 358,281.0 360,280.9 362,280.8 364,280.7 366,280.6 368,280.5 370,280.4 372,280.3 374,280.2 376,280.1 378,280.0 380,279.9 382,279.8 384,279.8 386,279.7 388,279.6 390,279.6 392,279.5 394,279.5 396,279.4 398,279.4 400,279.4 402,279.4 404,279.4 406,279.4 408,279.4 410,279.4 412,279.4 414,279.4 416,279.4 418,279.4 420,279.4 422,279.4 424,279.4 426,279.4 428,279.4 430,279.4 432,279.4 434,279.4 436,279.4 438,279.4 440,279.4 442,279.4 444,279.4 446,279.4 448,279.4 450,279.4 452,279.4 454,279.4 456,279.4 458,279.4 460,279.4 462,279.4 464,279.4 466,279.4 468,279.4 470,279.4 472,279.4 474,279.4 476,279.3 478,279.3 480,279.2 482,279.2 484,279.1 486,279.0 488,279.0 490,278.9 492,278.8 494,278.8 496,278.7 498,278.6 500,278.6 502,278.5 504,278.5 506,278.4 508,278.4 510,278.4 512,278.4 514,278.4 516,278.5 518,278.5 520,278.6 522,278.6 524,278.7 526,278.8 528,278.8 530,278.9 532,279.0 534,279.1 536,279.2 538,279.3 540,279.4 542,279.5 544,279.5 546,279.6 548,279.7 550,279.7 552,279.8 554,279.8 556,279.9 558,279.9 560,279.9 562,279.8 564,279.8 566,279.7 568,279.6 570,279.5 572,279.3 574,279.1 576,278.9 578,278.7 580,278.5 582,278.3 584,278.1 586,277.8 588,277.6 590,277.4 592,277.2 594,276.9 596,276.6 598,276.3 600,276.0 602,275.7 604,275.4 606,275.0 608,274.6 610,274.3 612,273.9 614,273.5 616,273.1 618,272.7 620,272.4 622,272.0 624,271.6 626,271.3 628,271.0 630,270.7 632,270.4 634,270.1 636,269.9 638,269.7 640,269.5 642,269.4 644,269.3 646,269.2 648,269.2 650,269.2 652,269.2 654,269.3 656,269.4 658,269.5 660,269.7 662,269.8 664,270.0 666,270.2 668,270.4 670,270.6 672,270.8 674,271.0 676,271.2 678,271.4 680,271.5 682,271.7 684,271.8 686,272.0 688,272.1 690,272.2 692,272.4 694,272.5 696,272.6 698,272.8 700,272.9 702,273.0 704,273.1 706,273.2 708,273.3 710,273.4 712,273.4 714,273.5 716,273.5 718,273.4 720,273.4 722,273.3 724,273.2 726,273.1 728,272.9 730,272.8 732,272.6 734,272.4 736,272.2 738,272.0 740,271.7 742,271.5 744,271.3 746,271.1 748,270.9 750,270.6 752,270.4 754,270.2 756,270.0 758,269.7 760,269.5 762,269.2 764,269.0 766,268.7 768,268.5 770,268.2 772,267.9 774,267.7 776,267.4 778,267.2 780,266.9 782,266.6 784,266.4 786,266.1 788,265.8 790,265.5 792,265.2 794,265.0 796,264.7 798,264.4 800,264.2 802,263.9 804,263.7 806,263.5 808,263.3 810,263.2 812,263.0 814,262.9 816,262.8 818,262.6 820,262.5 822,262.5 824,262.5 826,262.5 828,262.5 830,262.6 832,262.8 834,263.0 836,263.2 838,263.4 840,263.7 842,264.0 844,264.3 846,264.6 848,265.1 850,265.6 852,266.1 854,266.8 856,267.5 858,268.2 860,268.9 862,269.7 864,270.4 866,271.1 868,271.7 870,272.4 872,273.0 874,273.6 876,274.2 878,274.7 880,275.3 882,275.9 884,276.5 886,277.0 888,277.5 890,278.0 892,278.5 894,279.0 896,279.4 898,279.7 900,280.1 902,280.4 904,280.7 906,281.0 908,281.2 910,281.5 912,281.8 914,282.0 916,282.2 918,282.4 920,282.6 922,282.8 924,282.9 926,283.1 928,283.2 930,283.3 932,283.4 934,283.4 936,283.5 938,283.6 940,283.6 942,283.7 944,283.7 946,283.8 948,283.8 950,283.8 952,283.9 954,283.9 956,283.9 958,283.9 L957.5,283.90 Z" fill="#b4b4b4" fill-opacity="0.8" stroke="none"/>
<path d="M276,283.9 278,283.9 280,283.9 282,283.8 284,283.8 286,283.8 288,283.7 290,283.7 292,283.7 294,283.6 296,283.6 298,283.5 300,283.5 302,283.4 304,283.4 306,283.3 308,283.3 310,283.2 312,283.1 314,283.1 316,283.0 318,283.0 320,282.9 322,282.8 324,282.7 326,282.7 328,282.6 330,282.5 332,282.4 334,282.3 336,282.2 338,282.0 340,281.9 342,281.8 344,281.7 346,281.6 348,281.5 350,281.4 352,281.3 354,281.2 356,281.1 358,281.0 360,280.9 362,280.8 364,280.7 366,280.6 368,280.5 370,280.4 372,280.3 374,280.2 376,280.1 378,280.0 380,279.9 382,279.8 384,279.8 386,279.7 388,279.6 390,279.6 392,279.5 394,279.5 396,279.4 398,279.4 400,279.4 402,279.4 404,279.4 406,279.4 408,279.4 410,279.4 412,279.4 414,279.4 416,279.4 418,279.4 420,279.4 422,279.4 424,279.4 426,279.4 428,279.4 430,279.4 432,279.4 434,279.4 436,279.4 438,279.4 440,279.4 442,279.4 444,279.4 446,279.4 448,279.4 450,279.4 452,279.4 454,279.4 456,279.4 458,279.4 460,279.4 462,279.4 464,279.4 466,279.4 468,279.4 470,279.4 472,279.4 474,279.4 476,279.3 478,279.3 480,279.2 482,279.2 484,279.1 486,279.0 488,279.0 490,278.9 492,278.8 494,278.8 496,278.7 498,278.6 500,278.6 502,278.5 504,278.5 506,278.4 508,278.4 510,278.4 512,278.4 514,278.4 516,278.5 518,278.5 520,278.6 522,278.6 524,278.7 526,278.8 528,278.8 530,278.9 532,279.0 534,279.1 536,279.2 538,279.3 540,279.4 542,279.5 544,279.5 546,279.6 548,279.7 550,279.7 552,279.8 554,279.8 556,279.9 558,279.9 560,279.9 562,279.8 564,279.8 566,279.7 568,279.6 570,279.5 572,279.3 574,279.1 576,278.9 578,278.7 580,278.5 582,278.3 584,278.1 586,277.8 588,277.6 590,277.4 592,277.2 594,276.9 596,276.6 598,276.3 600,276.0 602,275.7 604,275.4 606,275.0 608,274.6 610,274.3 612,273.9 614,273.5 616,273.1 618,272.7 620,272.4 622,272.0 624,271.6 626,271.3 628,271.0 630,270.7 632,270.4 634,270.1 636,269.9 638,269.7 640,269.5 642,269.4 644,269.3 646,269.2 648,269.2 650,269.2 652,269.2 654,269.3 656,269.4 658,269.5 660,269.7 662,269.8 664,270.0 666,270.2 668,270.4 670,270.6 672,270.8 674,271.0 676,271.2 678,271.4 680,271.5 682,271.7 684,271.8 686,272.0 688,272.1 690,272.2 692,272.4 694,272.5 696,272.6 698,272.8 700,272.9 702,273.0 704,273.1 706,273.2 708,273.3 710,273.4 712,273.4 714,273.5 716,273.5 718,273.4 720,273.4 722,273.3 724,273.2 726,273.1 728,272.9 730,272.8 732,272.6 734,272.4 736,272.2 738,272.0 740,271.7 742,271.5 744,271.3 746,271.1 748,270.9 750,270.6 752,270.4 754,270.2 756,270.0 758,269.7 760,269.5 762,269.2 764,269.0 766,268.7 768,268.5 770,268.2 772,267.9 774,267.7 776,267.4 778,267.2 780,266.9 782,266.6 784,266.4 786,266.1 788,265.8 790,265.5 792,265.2 794,265.0 796,264.7 798,264.4 800,264.2 802,263.9 804,263.7 806,263.5 808,263.3 810,263.2 812,263.0 814,262.9 816,262.8 818,262.6 820,262.5 822,262.5 824,262.5 826,262.5 828,262.5 830,262.6 832,262.8 834,263.0 836,263.2 838,263.4 840,263.7 842,264.0 844,264.3 846,264.6 848,265.1 850,265.6 852,266.1 854,266.8 856,267.5 858,268.2 860,268.9 862,269.7 864,270.4 866,271.1 868,271.7 870,272.4 872,273.0 874,273.6 876,274.2 878,274.7 880,275.3 882,275.9 884,276.5 886,277.0 888,277.5 890,278.0 892,278.5 894,279.0 896,279.4 898,279.7 900,280.1 902,280.4 904,280.7 906,281.0 908,281.2 910,281.5 912,281.8 914,282.0 916,282.2 918,282.4 920,282.6 922,282.8 924,282.9 926,283.1 928,283.2 930,283.3 932,283.4 934,283.4 936,283.5 938,283.6 940,283.6 942,283.7 944,283.7 946,283.8 948,283.8 950,283.8 952,283.9 954,283.9 956,283.9 958,283.9" fill="none" stroke="#1e1e1e" stroke-width="2.3" stroke-linejoin="round"/>
<path d="M276.0,323.76 L276,323.8 278,323.8 280,323.8 282,323.8 284,323.8 286,323.8 288,323.8 290,323.7 292,323.7 294,323.7 296,323.7 298,323.7 300,323.7 302,323.7 304,323.7 306,323.7 308,323.7 310,323.7 312,323.7 314,323.7 316,323.7 318,323.7 320,323.7 322,323.6 324,323.6 326,323.6 328,323.5 330,323.5 332,323.4 334,323.3 336,323.3 338,323.2 340,323.1 342,323.1 344,323.0 346,322.9 348,322.9 350,322.8 352,322.7 354,322.6 356,322.6 358,322.5 360,322.4 362,322.3 364,322.2 366,322.1 368,322.1 370,322.0 372,321.9 374,321.8 376,321.7 378,321.6 380,321.5 382,321.3 384,321.2 386,321.1 388,321.0 390,320.8 392,320.7 394,320.5 396,320.4 398,320.2 400,320.1 402,319.9 404,319.8 406,319.7 408,319.5 410,319.4 412,319.2 414,319.1 416,318.9 418,318.7 420,318.6 422,318.4 424,318.3 426,318.1 428,318.0 430,317.8 432,317.7 434,317.6 436,317.5 438,317.4 440,317.3 442,317.3 444,317.2 446,317.1 448,317.0 450,317.0 452,316.9 454,316.9 456,316.9 458,316.9 460,316.9 462,316.9 464,316.9 466,316.9 468,317.0 470,317.0 472,317.1 474,317.1 476,317.2 478,317.3 480,317.3 482,317.4 484,317.4 486,317.5 488,317.6 490,317.6 492,317.7 494,317.8 496,317.8 498,317.9 500,318.0 502,318.1 504,318.1 506,318.2 508,318.3 510,318.4 512,318.5 514,318.6 516,318.6 518,318.7 520,318.8 522,318.9 524,319.0 526,319.1 528,319.2 530,319.3 532,319.4 534,319.6 536,319.7 538,319.8 540,320.0 542,320.1 544,320.2 546,320.3 548,320.4 550,320.5 552,320.6 554,320.7 556,320.8 558,320.8 560,320.8 562,320.8 564,320.8 566,320.7 568,320.6 570,320.4 572,320.2 574,320.0 576,319.8 578,319.5 580,319.3 582,319.0 584,318.7 586,318.5 588,318.2 590,318.0 592,317.8 594,317.5 596,317.3 598,317.0 600,316.8 602,316.5 604,316.2 606,315.9 608,315.6 610,315.3 612,315.0 614,314.7 616,314.5 618,314.2 620,314.0 622,313.7 624,313.5 626,313.3 628,313.1 630,312.9 632,312.8 634,312.7 636,312.6 638,312.6 640,312.5 642,312.5 644,312.6 646,312.6 648,312.7 650,312.7 652,312.8 654,312.8 656,312.9 658,313.0 660,313.1 662,313.1 664,313.2 666,313.2 668,313.2 670,313.2 672,313.2 674,313.1 676,313.0 678,312.9 680,312.7 682,312.5 684,312.3 686,312.1 688,311.9 690,311.6 692,311.4 694,311.2 696,310.9 698,310.7 700,310.5 702,310.3 704,310.2 706,310.0 708,309.9 710,309.7 712,309.5 714,309.3 716,309.2 718,309.0 720,308.7 722,308.5 724,308.2 726,307.9 728,307.5 730,307.2 732,306.8 734,306.5 736,306.2 738,305.8 740,305.5 742,305.3 744,305.0 746,304.7 748,304.5 750,304.3 752,304.0 754,303.8 756,303.5 758,303.3 760,303.0 762,302.8 764,302.5 766,302.3 768,302.0 770,301.8 772,301.6 774,301.4 776,301.3 778,301.1 780,301.0 782,300.9 784,300.8 786,300.7 788,300.7 790,300.6 792,300.6 794,300.5 796,300.6 798,300.6 800,300.7 802,300.8 804,301.0 806,301.2 808,301.4 810,301.7 812,301.9 814,302.2 816,302.5 818,302.7 820,303.0 822,303.3 824,303.7 826,304.0 828,304.4 830,304.8 832,305.3 834,305.8 836,306.2 838,306.7 840,307.3 842,307.8 844,308.3 846,308.9 848,309.5 850,310.1 852,310.8 854,311.5 856,312.3 858,313.0 860,313.7 862,314.4 864,315.0 866,315.6 868,316.2 870,316.7 872,317.2 874,317.7 876,318.1 878,318.6 880,319.0 882,319.4 884,319.8 886,320.1 888,320.4 890,320.7 892,321.0 894,321.3 896,321.5 898,321.8 900,322.0 902,322.1 904,322.3 906,322.5 908,322.6 910,322.8 912,322.9 914,323.0 916,323.1 918,323.3 920,323.4 922,323.4 924,323.5 926,323.6 928,323.6 930,323.6 932,323.7 934,323.7 936,323.7 938,323.7 940,323.7 942,323.7 944,323.7 946,323.7 948,323.7 950,323.8 952,323.8 954,323.8 956,323.8 958,323.8 L957.5,323.76 Z" fill="#b4b4b4" fill-opacity="0.8" stroke="none"/>
<path d="M276,323.8 278,323.8 280,323.8 282,323.8 284,323.8 286,323.8 288,323.8 290,323.7 292,323.7 294,323.7 296,323.7 298,323.7 300,323.7 302,323.7 304,323.7 306,323.7 308,323.7 310,323.7 312,323.7 314,323.7 316,323.7 318,323.7 320,323.7 322,323.6 324,323.6 326,323.6 328,323.5 330,323.5 332,323.4 334,323.3 336,323.3 338,323.2 340,323.1 342,323.1 344,323.0 346,322.9 348,322.9 350,322.8 352,322.7 354,322.6 356,322.6 358,322.5 360,322.4 362,322.3 364,322.2 366,322.1 368,322.1 370,322.0 372,321.9 374,321.8 376,321.7 378,321.6 380,321.5 382,321.3 384,321.2 386,321.1 388,321.0 390,320.8 392,320.7 394,320.5 396,320.4 398,320.2 400,320.1 402,319.9 404,319.8 406,319.7 408,319.5 410,319.4 412,319.2 414,319.1 416,318.9 418,318.7 420,318.6 422,318.4 424,318.3 426,318.1 428,318.0 430,317.8 432,317.7 434,317.6 436,317.5 438,317.4 440,317.3 442,317.3 444,317.2 446,317.1 448,317.0 450,317.0 452,316.9 454,316.9 456,316.9 458,316.9 460,316.9 462,316.9 464,316.9 466,316.9 468,317.0 470,317.0 472,317.1 474,317.1 476,317.2 478,317.3 480,317.3 482,317.4 484,317.4 486,317.5 488,317.6 490,317.6 492,317.7 494,317.8 496,317.8 498,317.9 500,318.0 502,318.1 504,318.1 506,318.2 508,318.3 510,318.4 512,318.5 514,318.6 516,318.6 518,318.7 520,318.8 522,318.9 524,319.0 526,319.1 528,319.2 530,319.3 532,319.4 534,319.6 536,319.7 538,319.8 540,320.0 542,320.1 544,320.2 546,320.3 548,320.4 550,320.5 552,320.6 554,320.7 556,320.8 558,320.8 560,320.8 562,320.8 564,320.8 566,320.7 568,320.6 570,320.4 572,320.2 574,320.0 576,319.8 578,319.5 580,319.3 582,319.0 584,318.7 586,318.5 588,318.2 590,318.0 592,317.8 594,317.5 596,317.3 598,317.0 600,316.8 602,316.5 604,316.2 606,315.9 608,315.6 610,315.3 612,315.0 614,314.7 616,314.5 618,314.2 620,314.0 622,313.7 624,313.5 626,313.3 628,313.1 630,312.9 632,312.8 634,312.7 636,312.6 638,312.6 640,312.5 642,312.5 644,312.6 646,312.6 648,312.7 650,312.7 652,312.8 654,312.8 656,312.9 658,313.0 660,313.1 662,313.1 664,313.2 666,313.2 668,313.2 670,313.2 672,313.2 674,313.1 676,313.0 678,312.9 680,312.7 682,312.5 684,312.3 686,312.1 688,311.9 690,311.6 692,311.4 694,311.2 696,310.9 698,310.7 700,310.5 702,310.3 704,310.2 706,310.0 708,309.9 710,309.7 712,309.5 714,309.3 716,309.2 718,309.0 720,308.7 722,308.5 724,308.2 726,307.9 728,307.5 730,307.2 732,306.8 734,306.5 736,306.2 738,305.8 740,305.5 742,305.3 744,305.0 746,304.7 748,304.5 750,304.3 752,304.0 754,303.8 756,303.5 758,303.3 760,303.0 762,302.8 764,302.5 766,302.3 768,302.0 770,301.8 772,301.6 774,301.4 776,301.3 778,301.1 780,301.0 782,300.9 784,300.8 786,300.7 788,300.7 790,300.6 792,300.6 794,300.5 796,300.6 798,300.6 800,300.7 802,300.8 804,301.0 806,301.2 808,301.4 810,301.7 812,301.9 814,302.2 816,302.5 818,302.7 820,303.0 822,303.3 824,303.7 826,304.0 828,304.4 830,304.8 832,305.3 834,305.8 836,306.2 838,306.7 840,307.3 842,307.8 844,308.3 846,308.9 848,309.5 850,310.1 852,310.8 854,311.5 856,312.3 858,313.0 860,313.7 862,314.4 864,315.0 866,315.6 868,316.2 870,316.7 872,317.2 874,317.7 876,318.1 878,318.6 880,319.0 882,319.4 884,319.8 886,320.1 888,320.4 890,320.7 892,321.0 894,321.3 896,321.5 898,321.8 900,322.0 902,322.1 904,322.3 906,322.5 908,322.6 910,322.8 912,322.9 914,323.0 916,323.1 918,323.3 920,323.4 922,323.4 924,323.5 926,323.6 928,323.6 930,323.6 932,323.7 934,323.7 936,323.7 938,323.7 940,323.7 942,323.7 944,323.7 946,323.7 948,323.7 950,323.8 952,323.8 954,323.8 956,323.8 958,323.8" fill="none" stroke="#1e1e1e" stroke-width="2.3" stroke-linejoin="round"/>
<path d="M276.0,363.62 L276,363.6 278,363.6 280,363.6 282,363.6 284,363.6 286,363.6 288,363.6 290,363.6 292,363.6 294,363.6 296,363.6 298,363.6 300,363.6 302,363.6 304,363.6 306,363.6 308,363.6 310,363.6 312,363.6 314,363.6 316,363.6 318,363.6 320,363.6 322,363.6 324,363.6 326,363.6 328,363.5 330,363.5 332,363.4 334,363.4 336,363.3 338,363.2 340,363.1 342,363.1 344,363.0 346,362.9 348,362.9 350,362.8 352,362.7 354,362.7 356,362.6 358,362.5 360,362.5 362,362.4 364,362.3 366,362.3 368,362.2 370,362.1 372,362.1 374,362.0 376,361.9 378,361.9 380,361.8 382,361.8 384,361.7 386,361.7 388,361.6 390,361.6 392,361.5 394,361.5 396,361.4 398,361.4 400,361.4 402,361.4 404,361.3 406,361.3 408,361.3 410,361.3 412,361.3 414,361.3 416,361.2 418,361.2 420,361.2 422,361.2 424,361.2 426,361.2 428,361.2 430,361.2 432,361.1 434,361.1 436,361.1 438,361.1 440,361.1 442,361.0 444,361.0 446,361.0 448,361.0 450,361.0 452,360.9 454,360.9 456,360.9 458,360.8 460,360.8 462,360.8 464,360.7 466,360.7 468,360.7 470,360.6 472,360.6 474,360.5 476,360.5 478,360.4 480,360.4 482,360.3 484,360.2 486,360.2 488,360.1 490,360.0 492,359.9 494,359.8 496,359.8 498,359.7 500,359.6 502,359.5 504,359.4 506,359.3 508,359.2 510,359.1 512,359.0 514,358.9 516,358.8 518,358.7 520,358.5 522,358.4 524,358.3 526,358.1 528,358.0 530,357.9 532,357.7 534,357.6 536,357.4 538,357.3 540,357.1 542,357.0 544,356.8 546,356.6 548,356.4 550,356.3 552,356.1 554,355.9 556,355.7 558,355.5 560,355.3 562,355.1 564,354.9 566,354.7 568,354.5 570,354.3 572,354.1 574,353.9 576,353.7 578,353.6 580,353.4 582,353.2 584,353.1 586,352.9 588,352.8 590,352.6 592,352.5 594,352.4 596,352.2 598,352.1 600,351.9 602,351.8 604,351.7 606,351.5 608,351.4 610,351.3 612,351.2 614,351.0 616,350.9 618,350.8 620,350.7 622,350.6 624,350.5 626,350.4 628,350.4 630,350.3 632,350.2 634,350.2 636,350.2 638,350.1 640,350.1 642,350.2 644,350.2 646,350.2 648,350.3 650,350.4 652,350.5 654,350.6 656,350.7 658,350.8 660,350.9 662,351.0 664,351.0 666,351.1 668,351.2 670,351.2 672,351.2 674,351.2 676,351.2 678,351.2 680,351.2 682,351.1 684,351.1 686,351.1 688,351.1 690,351.0 692,351.0 694,350.9 696,350.9 698,350.9 700,350.8 702,350.8 704,350.7 706,350.6 708,350.6 710,350.5 712,350.4 714,350.3 716,350.2 718,350.1 720,350.0 722,349.9 724,349.8 726,349.7 728,349.5 730,349.4 732,349.2 734,349.1 736,348.9 738,348.7 740,348.5 742,348.3 744,348.1 746,347.8 748,347.6 750,347.4 752,347.2 754,347.0 756,346.8 758,346.5 760,346.3 762,346.1 764,345.8 766,345.6 768,345.4 770,345.1 772,344.9 774,344.7 776,344.5 778,344.3 780,344.1 782,343.9 784,343.7 786,343.5 788,343.3 790,343.1 792,343.0 794,342.8 796,342.7 798,342.7 800,342.7 802,342.7 804,342.7 806,342.8 808,342.9 810,343.0 812,343.1 814,343.3 816,343.5 818,343.8 820,344.1 822,344.5 824,344.9 826,345.4 828,345.9 830,346.4 832,346.9 834,347.5 836,348.1 838,348.8 840,349.4 842,350.1 844,350.7 846,351.4 848,352.0 850,352.6 852,353.2 854,353.7 856,354.3 858,354.9 860,355.4 862,355.9 864,356.4 866,356.9 868,357.4 870,357.9 872,358.3 874,358.7 876,359.0 878,359.4 880,359.7 882,360.0 884,360.3 886,360.6 888,360.9 890,361.1 892,361.4 894,361.6 896,361.8 898,361.9 900,362.1 902,362.2 904,362.4 906,362.5 908,362.6 910,362.7 912,362.8 914,362.9 916,363.0 918,363.1 920,363.2 922,363.2 924,363.3 926,363.3 928,363.4 930,363.4 932,363.4 934,363.5 936,363.5 938,363.5 940,363.5 942,363.5 944,363.6 946,363.6 948,363.6 950,363.6 952,363.6 954,363.6 956,363.6 958,363.6 L957.5,363.62 Z" fill="#b4b4b4" fill-opacity="0.8" stroke="none"/>
<path d="M276,363.6 278,363.6 280,363.6 282,363.6 284,363.6 286,363.6 288,363.6 290,363.6 292,363.6 294,363.6 296,363.6 298,363.6 300,363.6 302,363.6 304,363.6 306,363.6 308,363.6 310,363.6 312,363.6 314,363.6 316,363.6 318,363.6 320,363.6 322,363.6 324,363.6 326,363.6 328,363.5 330,363.5 332,363.4 334,363.4 336,363.3 338,363.2 340,363.1 342,363.1 344,363.0 346,362.9 348,362.9 350,362.8 352,362.7 354,362.7 356,362.6 358,362.5 360,362.5 362,362.4 364,362.3 366,362.3 368,362.2 370,362.1 372,362.1 374,362.0 376,361.9 378,361.9 380,361.8 382,361.8 384,361.7 386,361.7 388,361.6 390,361.6 392,361.5 394,361.5 396,361.4 398,361.4 400,361.4 402,361.4 404,361.3 406,361.3 408,361.3 410,361.3 412,361.3 414,361.3 416,361.2 418,361.2 420,361.2 422,361.2 424,361.2 426,361.2 428,361.2 430,361.2 432,361.1 434,361.1 436,361.1 438,361.1 440,361.1 442,361.0 444,361.0 446,361.0 448,361.0 450,361.0 452,360.9 454,360.9 456,360.9 458,360.8 460,360.8 462,360.8 464,360.7 466,360.7 468,360.7 470,360.6 472,360.6 474,360.5 476,360.5 478,360.4 480,360.4 482,360.3 484,360.2 486,360.2 488,360.1 490,360.0 492,359.9 494,359.8 496,359.8 498,359.7 500,359.6 502,359.5 504,359.4 506,359.3 508,359.2 510,359.1 512,359.0 514,358.9 516,358.8 518,358.7 520,358.5 522,358.4 524,358.3 526,358.1 528,358.0 530,357.9 532,357.7 534,357.6 536,357.4 538,357.3 540,357.1 542,357.0 544,356.8 546,356.6 548,356.4 550,356.3 552,356.1 554,355.9 556,355.7 558,355.5 560,355.3 562,355.1 564,354.9 566,354.7 568,354.5 570,354.3 572,354.1 574,353.9 576,353.7 578,353.6 580,353.4 582,353.2 584,353.1 586,352.9 588,352.8 590,352.6 592,352.5 594,352.4 596,352.2 598,352.1 600,351.9 602,351.8 604,351.7 606,351.5 608,351.4 610,351.3 612,351.2 614,351.0 616,350.9 618,350.8 620,350.7 622,350.6 624,350.5 626,350.4 628,350.4 630,350.3 632,350.2 634,350.2 636,350.2 638,350.1 640,350.1 642,350.2 644,350.2 646,350.2 648,350.3 650,350.4 652,350.5 654,350.6 656,350.7 658,350.8 660,350.9 662,351.0 664,351.0 666,351.1 668,351.2 670,351.2 672,351.2 674,351.2 676,351.2 678,351.2 680,351.2 682,351.1 684,351.1 686,351.1 688,351.1 690,351.0 692,351.0 694,350.9 696,350.9 698,350.9 700,350.8 702,350.8 704,350.7 706,350.6 708,350.6 710,350.5 712,350.4 714,350.3 716,350.2 718,350.1 720,350.0 722,349.9 724,349.8 726,349.7 728,349.5 730,349.4 732,349.2 734,349.1 736,348.9 738,348.7 740,348.5 742,348.3 744,348.1 746,347.8 748,347.6 750,347.4 752,347.2 754,347.0 756,346.8 758,346.5 760,346.3 762,346.1 764,345.8 766,345.6 768,345.4 770,345.1 772,344.9 774,344.7 776,344.5 778,344.3 780,344.1 782,343.9 784,343.7 786,343.5 788,343.3 790,343.1 792,343.0 794,342.8 796,342.7 798,342.7 800,342.7 802,342.7 804,342.7 806,342.8 808,342.9 810,343.0 812,343.1 814,343.3 816,343.5 818,343.8 820,344.1 822,344.5 824,344.9 826,345.4 828,345.9 830,346.4 832,346.9 834,347.5 836,348.1 838,348.8 840,349.4 842,350.1 844,350.7 846,351.4 848,352.0 850,352.6 852,353.2 854,353.7 856,354.3 858,354.9 860,355.4 862,355.9 864,356.4 866,356.9 868,357.4 870,357.9 872,358.3 874,358.7 876,359.0 878,359.4 880,359.7 882,360.0 884,360.3 886,360.6 888,360.9 890,361.1 892,361.4 894,361.6 896,361.8 898,361.9 900,362.1 902,362.2 904,362.4 906,362.5 908,362.6 910,362.7 912,362.8 914,362.9 916,363.0 918,363.1 920,363.2 922,363.2 924,363.3 926,363.3 928,363.4 930,363.4 932,363.4 934,363.5 936,363.5 938,363.5 940,363.5 942,363.5 944,363.6 946,363.6 948,363.6 950,363.6 952,363.6 954,363.6 956,363.6 958,363.6" fill="none" stroke="#1e1e1e" stroke-width="2.3" stroke-linejoin="round"/>
<path d="M276.0,403.48 L276,403.5 278,403.5 280,403.5 282,403.5 284,403.5 286,403.5 288,403.5 290,403.5 292,403.5 294,403.5 296,403.5 298,403.5 300,403.5 302,403.5 304,403.5 306,403.5 308,403.5 310,403.5 312,403.5 314,403.5 316,403.5 318,403.5 320,403.5 322,403.5 324,403.5 326,403.5 328,403.5 330,403.5 332,403.5 334,403.5 336,403.5 338,403.5 340,403.5 342,403.5 344,403.5 346,403.5 348,403.5 350,403.5 352,403.5 354,403.5 356,403.5 358,403.5 360,403.5 362,403.5 364,403.5 366,403.5 368,403.5 370,403.5 372,403.5 374,403.5 376,403.5 378,403.5 380,403.5 382,403.5 384,403.5 386,403.5 388,403.5 390,403.5 392,403.5 394,403.5 396,403.5 398,403.5 400,403.5 402,403.5 404,403.5 406,403.4 408,403.4 410,403.4 412,403.3 414,403.3 416,403.2 418,403.2 420,403.1 422,403.0 424,403.0 426,402.9 428,402.8 430,402.8 432,402.7 434,402.6 436,402.5 438,402.4 440,402.3 442,402.2 444,402.1 446,401.9 448,401.8 450,401.7 452,401.6 454,401.5 456,401.3 458,401.2 460,401.1 462,401.0 464,400.9 466,400.7 468,400.6 470,400.4 472,400.3 474,400.0 476,399.8 478,399.5 480,399.1 482,398.7 484,398.2 486,397.7 488,397.2 490,396.6 492,396.0 494,395.3 496,394.7 498,394.1 500,393.5 502,392.8 504,392.1 506,391.4 508,390.7 510,389.9 512,389.2 514,388.5 516,387.8 518,387.2 520,386.5 522,385.8 524,385.2 526,384.6 528,384.1 530,383.6 532,383.2 534,382.9 536,382.7 538,382.4 540,382.2 542,382.1 544,381.9 546,381.8 548,381.8 550,381.8 552,381.8 554,381.9 556,382.1 558,382.4 560,382.7 562,383.0 564,383.3 566,383.6 568,384.0 570,384.4 572,384.8 574,385.3 576,385.8 578,386.2 580,386.6 582,387.0 584,387.3 586,387.5 588,387.7 590,387.9 592,388.1 594,388.3 596,388.4 598,388.6 600,388.7 602,388.7 604,388.8 606,388.9 608,388.9 610,389.0 612,389.0 614,389.1 616,389.1 618,389.1 620,389.2 622,389.2 624,389.3 626,389.3 628,389.4 630,389.5 632,389.7 634,389.8 636,390.1 638,390.4 640,390.8 642,391.3 644,391.7 646,392.2 648,392.6 650,392.9 652,393.3 654,393.6 656,394.0 658,394.3 660,394.6 662,394.9 664,395.2 666,395.4 668,395.7 670,395.9 672,396.2 674,396.4 676,396.6 678,396.8 680,397.0 682,397.3 684,397.4 686,397.6 688,397.7 690,397.8 692,397.9 694,397.9 696,397.9 698,397.8 700,397.7 702,397.5 704,397.3 706,397.1 708,396.8 710,396.5 712,396.2 714,395.9 716,395.6 718,395.2 720,394.9 722,394.5 724,394.1 726,393.6 728,393.1 730,392.6 732,392.0 734,391.5 736,390.9 738,390.3 740,389.8 742,389.3 744,388.7 746,388.2 748,387.7 750,387.1 752,386.6 754,386.0 756,385.4 758,384.8 760,384.2 762,383.7 764,383.2 766,382.8 768,382.4 770,382.2 772,382.0 774,381.9 776,381.8 778,381.9 780,382.1 782,382.3 784,382.5 786,382.9 788,383.2 790,383.6 792,384.0 794,384.4 796,384.9 798,385.3 800,385.7 802,386.1 804,386.6 806,387.1 808,387.6 810,388.1 812,388.5 814,389.0 816,389.5 818,389.9 820,390.4 822,390.8 824,391.3 826,391.7 828,392.1 830,392.5 832,392.8 834,393.2 836,393.6 838,393.9 840,394.3 842,394.6 844,395.0 846,395.3 848,395.6 850,396.0 852,396.3 854,396.6 856,396.9 858,397.2 860,397.5 862,397.8 864,398.1 866,398.3 868,398.6 870,398.9 872,399.2 874,399.5 876,399.7 878,400.0 880,400.2 882,400.4 884,400.7 886,400.9 888,401.0 890,401.2 892,401.4 894,401.5 896,401.7 898,401.8 900,402.0 902,402.1 904,402.2 906,402.3 908,402.4 910,402.5 912,402.6 914,402.7 916,402.8 918,402.9 920,403.0 922,403.0 924,403.1 926,403.2 928,403.2 930,403.3 932,403.4 934,403.4 936,403.4 938,403.5 940,403.5 942,403.5 944,403.5 946,403.5 948,403.5 950,403.5 952,403.5 954,403.5 956,403.5 958,403.5 L957.5,403.48 Z" fill="#b4b4b4" fill-opacity="0.8" stroke="none"/>
<path d="M276,403.5 278,403.5 280,403.5 282,403.5 284,403.5 286,403.5 288,403.5 290,403.5 292,403.5 294,403.5 296,403.5 298,403.5 300,403.5 302,403.5 304,403.5 306,403.5 308,403.5 310,403.5 312,403.5 314,403.5 316,403.5 318,403.5 320,403.5 322,403.5 324,403.5 326,403.5 328,403.5 330,403.5 332,403.5 334,403.5 336,403.5 338,403.5 340,403.5 342,403.5 344,403.5 346,403.5 348,403.5 350,403.5 352,403.5 354,403.5 356,403.5 358,403.5 360,403.5 362,403.5 364,403.5 366,403.5 368,403.5 370,403.5 372,403.5 374,403.5 376,403.5 378,403.5 380,403.5 382,403.5 384,403.5 386,403.5 388,403.5 390,403.5 392,403.5 394,403.5 396,403.5 398,403.5 400,403.5 402,403.5 404,403.5 406,403.4 408,403.4 410,403.4 412,403.3 414,403.3 416,403.2 418,403.2 420,403.1 422,403.0 424,403.0 426,402.9 428,402.8 430,402.8 432,402.7 434,402.6 436,402.5 438,402.4 440,402.3 442,402.2 444,402.1 446,401.9 448,401.8 450,401.7 452,401.6 454,401.5 456,401.3 458,401.2 460,401.1 462,401.0 464,400.9 466,400.7 468,400.6 470,400.4 472,400.3 474,400.0 476,399.8 478,399.5 480,399.1 482,398.7 484,398.2 486,397.7 488,397.2 490,396.6 492,396.0 494,395.3 496,394.7 498,394.1 500,393.5 502,392.8 504,392.1 506,391.4 508,390.7 510,389.9 512,389.2 514,388.5 516,387.8 518,387.2 520,386.5 522,385.8 524,385.2 526,384.6 528,384.1 530,383.6 532,383.2 534,382.9 536,382.7 538,382.4 540,382.2 542,382.1 544,381.9 546,381.8 548,381.8 550,381.8 552,381.8 554,381.9 556,382.1 558,382.4 560,382.7 562,383.0 564,383.3 566,383.6 568,384.0 570,384.4 572,384.8 574,385.3 576,385.8 578,386.2 580,386.6 582,387.0 584,387.3 586,387.5 588,387.7 590,387.9 592,388.1 594,388.3 596,388.4 598,388.6 600,388.7 602,388.7 604,388.8 606,388.9 608,388.9 610,389.0 612,389.0 614,389.1 616,389.1 618,389.1 620,389.2 622,389.2 624,389.3 626,389.3 628,389.4 630,389.5 632,389.7 634,389.8 636,390.1 638,390.4 640,390.8 642,391.3 644,391.7 646,392.2 648,392.6 650,392.9 652,393.3 654,393.6 656,394.0 658,394.3 660,394.6 662,394.9 664,395.2 666,395.4 668,395.7 670,395.9 672,396.2 674,396.4 676,396.6 678,396.8 680,397.0 682,397.3 684,397.4 686,397.6 688,397.7 690,397.8 692,397.9 694,397.9 696,397.9 698,397.8 700,397.7 702,397.5 704,397.3 706,397.1 708,396.8 710,396.5 712,396.2 714,395.9 716,395.6 718,395.2 720,394.9 722,394.5 724,394.1 726,393.6 728,393.1 730,392.6 732,392.0 734,391.5 736,390.9 738,390.3 740,389.8 742,389.3 744,388.7 746,388.2 748,387.7 750,387.1 752,386.6 754,386.0 756,385.4 758,384.8 760,384.2 762,383.7 764,383.2 766,382.8 768,382.4 770,382.2 772,382.0 774,381.9 776,381.8 778,381.9 780,382.1 782,382.3 784,382.5 786,382.9 788,383.2 790,383.6 792,384.0 794,384.4 796,384.9 798,385.3 800,385.7 802,386.1 804,386.6 806,387.1 808,387.6 810,388.1 812,388.5 814,389.0 816,389.5 818,389.9 820,390.4 822,390.8 824,391.3 826,391.7 828,392.1 830,392.5 832,392.8 834,393.2 836,393.6 838,393.9 840,394.3 842,394.6 844,395.0 846,395.3 848,395.6 850,396.0 852,396.3 854,396.6 856,396.9 858,397.2 860,397.5 862,397.8 864,398.1 866,398.3 868,398.6 870,398.9 872,399.2 874,399.5 876,399.7 878,400.0 880,400.2 882,400.4 884,400.7 886,400.9 888,401.0 890,401.2 892,401.4 894,401.5 896,401.7 898,401.8 900,402.0 902,402.1 904,402.2 906,402.3 908,402.4 910,402.5 912,402.6 914,402.7 916,402.8 918,402.9 920,403.0 922,403.0 924,403.1 926,403.2 928,403.2 930,403.3 932,403.4 934,403.4 936,403.4 938,403.5 940,403.5 942,403.5 944,403.5 946,403.5 948,403.5 950,403.5 952,403.5 954,403.5 956,403.5 958,403.5" fill="none" stroke="#1e1e1e" stroke-width="2.3" stroke-linejoin="round"/>
<path d="M276.0,443.34 L276,443.3 278,443.3 280,443.3 282,443.3 284,443.3 286,443.3 288,443.3 290,443.3 292,443.3 294,443.3 296,443.3 298,443.3 300,443.3 302,443.3 304,443.3 306,443.2 308,443.2 310,443.2 312,443.2 314,443.2 316,443.2 318,443.2 320,443.1 322,443.1 324,443.1 326,443.0 328,442.9 330,442.8 332,442.7 334,442.6 336,442.5 338,442.4 340,442.3 342,442.1 344,442.0 346,441.8 348,441.7 350,441.4 352,441.2 354,441.0 356,440.7 358,440.4 360,440.1 362,439.7 364,439.4 366,439.1 368,438.8 370,438.5 372,438.1 374,437.9 376,437.6 378,437.3 380,437.1 382,436.9 384,436.7 386,436.5 388,436.3 390,436.1 392,435.9 394,435.7 396,435.5 398,435.4 400,435.2 402,435.1 404,434.9 406,434.8 408,434.7 410,434.6 412,434.5 414,434.4 416,434.3 418,434.3 420,434.2 422,434.1 424,434.0 426,434.0 428,433.9 430,433.9 432,433.9 434,433.9 436,433.9 438,433.9 440,433.9 442,433.9 444,433.9 446,434.0 448,434.0 450,434.1 452,434.1 454,434.2 456,434.3 458,434.3 460,434.4 462,434.5 464,434.6 466,434.7 468,434.8 470,434.9 472,435.1 474,435.3 476,435.5 478,435.7 480,435.9 482,436.1 484,436.4 486,436.6 488,436.9 490,437.1 492,437.4 494,437.6 496,437.9 498,438.2 500,438.5 502,438.7 504,439.0 506,439.2 508,439.4 510,439.6 512,439.7 514,439.8 516,439.9 518,440.0 520,440.1 522,440.2 524,440.3 526,440.3 528,440.4 530,440.4 532,440.5 534,440.5 536,440.6 538,440.6 540,440.6 542,440.6 544,440.5 546,440.5 548,440.4 550,440.3 552,440.2 554,440.1 556,440.0 558,439.9 560,439.7 562,439.5 564,439.4 566,439.2 568,439.0 570,438.8 572,438.5 574,438.2 576,437.9 578,437.4 580,437.0 582,436.4 584,435.9 586,435.3 588,434.7 590,434.1 592,433.5 594,433.0 596,432.4 598,431.9 600,431.3 602,430.8 604,430.3 606,429.7 608,429.1 610,428.5 612,427.9 614,427.3 616,426.7 618,426.2 620,425.7 622,425.2 624,424.7 626,424.3 628,424.0 630,423.7 632,423.5 634,423.5 636,423.4 638,423.5 640,423.7 642,423.9 644,424.2 646,424.5 648,424.8 650,425.2 652,425.6 654,426.0 656,426.4 658,426.7 660,427.1 662,427.4 664,427.8 666,428.2 668,428.6 670,429.0 672,429.4 674,429.8 676,430.1 678,430.5 680,430.9 682,431.2 684,431.5 686,431.7 688,431.9 690,432.1 692,432.2 694,432.3 696,432.4 698,432.5 700,432.6 702,432.7 704,432.8 706,432.8 708,432.9 710,432.9 712,433.0 714,433.0 716,433.1 718,433.1 720,433.1 722,433.1 724,433.1 726,433.1 728,433.0 730,433.0 732,433.0 734,433.0 736,432.9 738,432.9 740,432.8 742,432.8 744,432.7 746,432.7 748,432.6 750,432.6 752,432.5 754,432.4 756,432.3 758,432.2 760,432.1 762,432.0 764,431.8 766,431.7 768,431.5 770,431.4 772,431.3 774,431.1 776,431.0 778,430.9 780,430.9 782,430.8 784,430.7 786,430.6 788,430.6 790,430.5 792,430.4 794,430.4 796,430.3 798,430.3 800,430.2 802,430.2 804,430.1 806,430.1 808,430.1 810,430.1 812,430.1 814,430.1 816,430.2 818,430.2 820,430.2 822,430.3 824,430.4 826,430.4 828,430.5 830,430.6 832,430.7 834,430.8 836,431.0 838,431.1 840,431.4 842,431.6 844,431.9 846,432.3 848,432.7 850,433.1 852,433.5 854,433.9 856,434.3 858,434.7 860,435.1 862,435.5 864,435.9 866,436.3 868,436.7 870,437.2 872,437.6 874,438.0 876,438.4 878,438.8 880,439.2 882,439.6 884,439.9 886,440.2 888,440.6 890,440.9 892,441.2 894,441.5 896,441.8 898,442.1 900,442.3 902,442.5 904,442.7 906,442.9 908,443.0 910,443.1 912,443.1 914,443.1 916,443.2 918,443.2 920,443.2 922,443.2 924,443.2 926,443.2 928,443.2 930,443.3 932,443.3 934,443.3 936,443.3 938,443.3 940,443.3 942,443.3 944,443.3 946,443.3 948,443.3 950,443.3 952,443.3 954,443.3 956,443.3 958,443.3 L957.5,443.34 Z" fill="#b4b4b4" fill-opacity="0.8" stroke="none"/>
<path d="M276,443.3 278,443.3 280,443.3 282,443.3 284,443.3 286,443.3 288,443.3 290,443.3 292,443.3 294,443.3 296,443.3 298,443.3 300,443.3 302,443.3 304,443.3 306,443.2 308,443.2 310,443.2 312,443.2 314,443.2 316,443.2 318,443.2 320,443.1 322,443.1 324,443.1 326,443.0 328,442.9 330,442.8 332,442.7 334,442.6 336,442.5 338,442.4 340,442.3 342,442.1 344,442.0 346,441.8 348,441.7 350,441.4 352,441.2 354,441.0 356,440.7 358,440.4 360,440.1 362,439.7 364,439.4 366,439.1 368,438.8 370,438.5 372,438.1 374,437.9 376,437.6 378,437.3 380,437.1 382,436.9 384,436.7 386,436.5 388,436.3 390,436.1 392,435.9 394,435.7 396,435.5 398,435.4 400,435.2 402,435.1 404,434.9 406,434.8 408,434.7 410,434.6 412,434.5 414,434.4 416,434.3 418,434.3 420,434.2 422,434.1 424,434.0 426,434.0 428,433.9 430,433.9 432,433.9 434,433.9 436,433.9 438,433.9 440,433.9 442,433.9 444,433.9 446,434.0 448,434.0 450,434.1 452,434.1 454,434.2 456,434.3 458,434.3 460,434.4 462,434.5 464,434.6 466,434.7 468,434.8 470,434.9 472,435.1 474,435.3 476,435.5 478,435.7 480,435.9 482,436.1 484,436.4 486,436.6 488,436.9 490,437.1 492,437.4 494,437.6 496,437.9 498,438.2 500,438.5 502,438.7 504,439.0 506,439.2 508,439.4 510,439.6 512,439.7 514,439.8 516,439.9 518,440.0 520,440.1 522,440.2 524,440.3 526,440.3 528,440.4 530,440.4 532,440.5 534,440.5 536,440.6 538,440.6 540,440.6 542,440.6 544,440.5 546,440.5 548,440.4 550,440.3 552,440.2 554,440.1 556,440.0 558,439.9 560,439.7 562,439.5 564,439.4 566,439.2 568,439.0 570,438.8 572,438.5 574,438.2 576,437.9 578,437.4 580,437.0 582,436.4 584,435.9 586,435.3 588,434.7 590,434.1 592,433.5 594,433.0 596,432.4 598,431.9 600,431.3 602,430.8 604,430.3 606,429.7 608,429.1 610,428.5 612,427.9 614,427.3 616,426.7 618,426.2 620,425.7 622,425.2 624,424.7 626,424.3 628,424.0 630,423.7 632,423.5 634,423.5 636,423.4 638,423.5 640,423.7 642,423.9 644,424.2 646,424.5 648,424.8 650,425.2 652,425.6 654,426.0 656,426.4 658,426.7 660,427.1 662,427.4 664,427.8 666,428.2 668,428.6 670,429.0 672,429.4 674,429.8 676,430.1 678,430.5 680,430.9 682,431.2 684,431.5 686,431.7 688,431.9 690,432.1 692,432.2 694,432.3 696,432.4 698,432.5 700,432.6 702,432.7 704,432.8 706,432.8 708,432.9 710,432.9 712,433.0 714,433.0 716,433.1 718,433.1 720,433.1 722,433.1 724,433.1 726,433.1 728,433.0 730,433.0 732,433.0 734,433.0 736,432.9 738,432.9 740,432.8 742,432.8 744,432.7 746,432.7 748,432.6 750,432.6 752,432.5 754,432.4 756,432.3 758,432.2 760,432.1 762,432.0 764,431.8 766,431.7 768,431.5 770,431.4 772,431.3 774,431.1 776,431.0 778,430.9 780,430.9 782,430.8 784,430.7 786,430.6 788,430.6 790,430.5 792,430.4 794,430.4 796,430.3 798,430.3 800,430.2 802,430.2 804,430.1 806,430.1 808,430.1 810,430.1 812,430.1 814,430.1 816,430.2 818,430.2 820,430.2 822,430.3 824,430.4 826,430.4 828,430.5 830,430.6 832,430.7 834,430.8 836,431.0 838,431.1 840,431.4 842,431.6 844,431.9 846,432.3 848,432.7 850,433.1 852,433.5 854,433.9 856,434.3 858,434.7 860,435.1 862,435.5 864,435.9 866,436.3 868,436.7 870,437.2 872,437.6 874,438.0 876,438.4 878,438.8 880,439.2 882,439.6 884,439.9 886,440.2 888,440.6 890,440.9 892,441.2 894,441.5 896,441.8 898,442.1 900,442.3 902,442.5 904,442.7 906,442.9 908,443.0 910,443.1 912,443.1 914,443.1 916,443.2 918,443.2 920,443.2 922,443.2 924,443.2 926,443.2 928,443.2 930,443.3 932,443.3 934,443.3 936,443.3 938,443.3 940,443.3 942,443.3 944,443.3 946,443.3 948,443.3 950,443.3 952,443.3 954,443.3 956,443.3 958,443.3" fill="none" stroke="#1e1e1e" stroke-width="2.3" stroke-linejoin="round"/>
<path d="M276.0,483.20 L276,483.2 278,483.2 280,483.2 282,483.2 284,483.2 286,483.2 288,483.2 290,483.1 292,483.1 294,483.1 296,483.1 298,483.1 300,483.1 302,483.1 304,483.1 306,483.0 308,483.0 310,483.0 312,483.0 314,483.0 316,482.9 318,482.9 320,482.9 322,482.9 324,482.8 326,482.8 328,482.8 330,482.8 332,482.8 334,482.7 336,482.7 338,482.7 340,482.7 342,482.6 344,482.6 346,482.6 348,482.5 350,482.5 352,482.5 354,482.5 356,482.4 358,482.4 360,482.4 362,482.3 364,482.3 366,482.2 368,482.2 370,482.1 372,482.1 374,482.0 376,481.9 378,481.9 380,481.8 382,481.7 384,481.7 386,481.6 388,481.6 390,481.5 392,481.5 394,481.4 396,481.4 398,481.3 400,481.3 402,481.3 404,481.2 406,481.2 408,481.2 410,481.2 412,481.2 414,481.2 416,481.2 418,481.2 420,481.2 422,481.2 424,481.2 426,481.2 428,481.2 430,481.2 432,481.2 434,481.2 436,481.2 438,481.2 440,481.2 442,481.2 444,481.2 446,481.2 448,481.2 450,481.2 452,481.2 454,481.2 456,481.2 458,481.2 460,481.2 462,481.2 464,481.2 466,481.2 468,481.2 470,481.2 472,481.2 474,481.1 476,481.1 478,481.0 480,480.9 482,480.9 484,480.8 486,480.7 488,480.6 490,480.4 492,480.3 494,480.2 496,480.0 498,479.8 500,479.6 502,479.4 504,479.2 506,479.1 508,478.9 510,478.7 512,478.6 514,478.4 516,478.3 518,478.2 520,478.0 522,477.9 524,477.8 526,477.7 528,477.6 530,477.5 532,477.3 534,477.2 536,477.1 538,477.0 540,476.9 542,476.7 544,476.6 546,476.5 548,476.3 550,476.2 552,476.0 554,475.9 556,475.7 558,475.6 560,475.4 562,475.3 564,475.1 566,474.9 568,474.8 570,474.6 572,474.4 574,474.2 576,474.0 578,473.8 580,473.6 582,473.4 584,473.2 586,472.9 588,472.7 590,472.4 592,472.1 594,471.8 596,471.5 598,471.1 600,470.7 602,470.3 604,469.9 606,469.5 608,469.0 610,468.6 612,468.1 614,467.6 616,467.2 618,466.7 620,466.2 622,465.7 624,465.1 626,464.6 628,464.0 630,463.4 632,462.8 634,462.2 636,461.6 638,461.0 640,460.4 642,459.8 644,459.3 646,458.8 648,458.4 650,458.0 652,457.6 654,457.2 656,456.8 658,456.5 660,456.2 662,455.8 664,455.6 666,455.3 668,455.2 670,455.1 672,455.0 674,455.0 676,455.1 678,455.3 680,455.4 682,455.6 684,455.9 686,456.2 688,456.5 690,456.8 692,457.2 694,457.6 696,457.9 698,458.3 700,458.8 702,459.2 704,459.8 706,460.4 708,461.0 710,461.7 712,462.4 714,463.1 716,463.7 718,464.3 720,464.9 722,465.4 724,465.9 726,466.4 728,466.8 730,467.2 732,467.7 734,468.1 736,468.4 738,468.8 740,469.2 742,469.5 744,469.8 746,470.1 748,470.4 750,470.6 752,470.9 754,471.2 756,471.4 758,471.6 760,471.9 762,472.1 764,472.3 766,472.5 768,472.7 770,472.9 772,473.1 774,473.3 776,473.4 778,473.6 780,473.7 782,473.8 784,473.9 786,474.0 788,474.1 790,474.2 792,474.3 794,474.4 796,474.5 798,474.5 800,474.6 802,474.7 804,474.7 806,474.8 808,474.9 810,475.0 812,475.1 814,475.1 816,475.2 818,475.3 820,475.5 822,475.6 824,475.7 826,475.9 828,476.0 830,476.2 832,476.3 834,476.5 836,476.7 838,476.9 840,477.0 842,477.2 844,477.4 846,477.6 848,477.8 850,478.0 852,478.1 854,478.3 856,478.5 858,478.7 860,478.9 862,479.1 864,479.3 866,479.5 868,479.6 870,479.8 872,480.0 874,480.2 876,480.4 878,480.5 880,480.7 882,480.9 884,481.0 886,481.2 888,481.4 890,481.5 892,481.7 894,481.8 896,482.0 898,482.1 900,482.3 902,482.4 904,482.5 906,482.6 908,482.6 910,482.7 912,482.7 914,482.8 916,482.8 918,482.8 920,482.9 922,482.9 924,482.9 926,483.0 928,483.0 930,483.0 932,483.0 934,483.1 936,483.1 938,483.1 940,483.1 942,483.1 944,483.2 946,483.2 948,483.2 950,483.2 952,483.2 954,483.2 956,483.2 958,483.2 L957.5,483.20 Z" fill="#b4b4b4" fill-opacity="0.8" stroke="none"/>
<path d="M276,483.2 278,483.2 280,483.2 282,483.2 284,483.2 286,483.2 288,483.2 290,483.1 292,483.1 294,483.1 296,483.1 298,483.1 300,483.1 302,483.1 304,483.1 306,483.0 308,483.0 310,483.0 312,483.0 314,483.0 316,482.9 318,482.9 320,482.9 322,482.9 324,482.8 326,482.8 328,482.8 330,482.8 332,482.8 334,482.7 336,482.7 338,482.7 340,482.7 342,482.6 344,482.6 346,482.6 348,482.5 350,482.5 352,482.5 354,482.5 356,482.4 358,482.4 360,482.4 362,482.3 364,482.3 366,482.2 368,482.2 370,482.1 372,482.1 374,482.0 376,481.9 378,481.9 380,481.8 382,481.7 384,481.7 386,481.6 388,481.6 390,481.5 392,481.5 394,481.4 396,481.4 398,481.3 400,481.3 402,481.3 404,481.2 406,481.2 408,481.2 410,481.2 412,481.2 414,481.2 416,481.2 418,481.2 420,481.2 422,481.2 424,481.2 426,481.2 428,481.2 430,481.2 432,481.2 434,481.2 436,481.2 438,481.2 440,481.2 442,481.2 444,481.2 446,481.2 448,481.2 450,481.2 452,481.2 454,481.2 456,481.2 458,481.2 460,481.2 462,481.2 464,481.2 466,481.2 468,481.2 470,481.2 472,481.2 474,481.1 476,481.1 478,481.0 480,480.9 482,480.9 484,480.8 486,480.7 488,480.6 490,480.4 492,480.3 494,480.2 496,480.0 498,479.8 500,479.6 502,479.4 504,479.2 506,479.1 508,478.9 510,478.7 512,478.6 514,478.4 516,478.3 518,478.2 520,478.0 522,477.9 524,477.8 526,477.7 528,477.6 530,477.5 532,477.3 534,477.2 536,477.1 538,477.0 540,476.9 542,476.7 544,476.6 546,476.5 548,476.3 550,476.2 552,476.0 554,475.9 556,475.7 558,475.6 560,475.4 562,475.3 564,475.1 566,474.9 568,474.8 570,474.6 572,474.4 574,474.2 576,474.0 578,473.8 580,473.6 582,473.4 584,473.2 586,472.9 588,472.7 590,472.4 592,472.1 594,471.8 596,471.5 598,471.1 600,470.7 602,470.3 604,469.9 606,469.5 608,469.0 610,468.6 612,468.1 614,467.6 616,467.2 618,466.7 620,466.2 622,465.7 624,465.1 626,464.6 628,464.0 630,463.4 632,462.8 634,462.2 636,461.6 638,461.0 640,460.4 642,459.8 644,459.3 646,458.8 648,458.4 650,458.0 652,457.6 654,457.2 656,456.8 658,456.5 660,456.2 662,455.8 664,455.6 666,455.3 668,455.2 670,455.1 672,455.0 674,455.0 676,455.1 678,455.3 680,455.4 682,455.6 684,455.9 686,456.2 688,456.5 690,456.8 692,457.2 694,457.6 696,457.9 698,458.3 700,458.8 702,459.2 704,459.8 706,460.4 708,461.0 710,461.7 712,462.4 714,463.1 716,463.7 718,464.3 720,464.9 722,465.4 724,465.9 726,466.4 728,466.8 730,467.2 732,467.7 734,468.1 736,468.4 738,468.8 740,469.2 742,469.5 744,469.8 746,470.1 748,470.4 750,470.6 752,470.9 754,471.2 756,471.4 758,471.6 760,471.9 762,472.1 764,472.3 766,472.5 768,472.7 770,472.9 772,473.1 774,473.3 776,473.4 778,473.6 780,473.7 782,473.8 784,473.9 786,474.0 788,474.1 790,474.2 792,474.3 794,474.4 796,474.5 798,474.5 800,474.6 802,474.7 804,474.7 806,474.8 808,474.9 810,475.0 812,475.1 814,475.1 816,475.2 818,475.3 820,475.5 822,475.6 824,475.7 826,475.9 828,476.0 830,476.2 832,476.3 834,476.5 836,476.7 838,476.9 840,477.0 842,477.2 844,477.4 846,477.6 848,477.8 850,478.0 852,478.1 854,478.3 856,478.5 858,478.7 860,478.9 862,479.1 864,479.3 866,479.5 868,479.6 870,479.8 872,480.0 874,480.2 876,480.4 878,480.5 880,480.7 882,480.9 884,481.0 886,481.2 888,481.4 890,481.5 892,481.7 894,481.8 896,482.0 898,482.1 900,482.3 902,482.4 904,482.5 906,482.6 908,482.6 910,482.7 912,482.7 914,482.8 916,482.8 918,482.8 920,482.9 922,482.9 924,482.9 926,483.0 928,483.0 930,483.0 932,483.0 934,483.1 936,483.1 938,483.1 940,483.1 942,483.1 944,483.2 946,483.2 948,483.2 950,483.2 952,483.2 954,483.2 956,483.2 958,483.2" fill="none" stroke="#1e1e1e" stroke-width="2.3" stroke-linejoin="round"/>
<path d="M276.0,523.06 L276,523.1 278,523.1 280,523.1 282,523.0 284,523.0 286,523.0 288,523.0 290,523.0 292,523.0 294,523.0 296,522.9 298,522.9 300,522.9 302,522.9 304,522.8 306,522.8 308,522.8 310,522.8 312,522.7 314,522.7 316,522.6 318,522.6 320,522.5 322,522.5 324,522.4 326,522.3 328,522.1 330,522.0 332,521.8 334,521.6 336,521.4 338,521.2 340,521.0 342,520.8 344,520.7 346,520.5 348,520.3 350,520.1 352,519.9 354,519.7 356,519.6 358,519.4 360,519.2 362,519.0 364,518.8 366,518.6 368,518.4 370,518.3 372,518.1 374,518.0 376,517.8 378,517.7 380,517.6 382,517.4 384,517.3 386,517.2 388,517.1 390,517.0 392,516.9 394,516.8 396,516.7 398,516.6 400,516.5 402,516.5 404,516.4 406,516.4 408,516.3 410,516.3 412,516.3 414,516.3 416,516.3 418,516.4 420,516.4 422,516.4 424,516.4 426,516.5 428,516.5 430,516.5 432,516.6 434,516.6 436,516.6 438,516.7 440,516.7 442,516.7 444,516.7 446,516.8 448,516.8 450,516.8 452,516.8 454,516.8 456,516.9 458,516.9 460,516.9 462,516.9 464,516.9 466,516.9 468,517.0 470,517.0 472,517.0 474,517.0 476,517.0 478,517.0 480,517.0 482,517.0 484,517.0 486,517.1 488,517.1 490,517.0 492,517.0 494,517.0 496,517.0 498,516.9 500,516.9 502,516.8 504,516.7 506,516.7 508,516.6 510,516.6 512,516.5 514,516.5 516,516.4 518,516.4 520,516.4 522,516.3 524,516.3 526,516.3 528,516.3 530,516.2 532,516.2 534,516.2 536,516.1 538,516.1 540,516.1 542,516.0 544,516.0 546,516.0 548,515.9 550,515.9 552,515.8 554,515.8 556,515.7 558,515.6 560,515.5 562,515.4 564,515.3 566,515.1 568,514.8 570,514.6 572,514.3 574,513.9 576,513.6 578,513.3 580,512.9 582,512.6 584,512.2 586,511.9 588,511.6 590,511.3 592,511.0 594,510.7 596,510.4 598,510.1 600,509.8 602,509.5 604,509.2 606,508.8 608,508.5 610,508.2 612,507.9 614,507.6 616,507.3 618,507.1 620,506.8 622,506.6 624,506.4 626,506.2 628,506.1 630,506.0 632,505.9 634,505.9 636,505.9 638,505.9 640,506.0 642,506.1 644,506.3 646,506.5 648,506.7 650,507.0 652,507.2 654,507.5 656,507.8 658,508.0 660,508.3 662,508.5 664,508.8 666,509.0 668,509.1 670,509.3 672,509.4 674,509.5 676,509.7 678,509.8 680,509.9 682,510.0 684,510.1 686,510.2 688,510.3 690,510.4 692,510.4 694,510.5 696,510.5 698,510.5 700,510.5 702,510.5 704,510.5 706,510.5 708,510.4 710,510.4 712,510.3 714,510.2 716,510.2 718,510.1 720,510.0 722,509.9 724,509.9 726,509.8 728,509.7 730,509.6 732,509.6 734,509.5 736,509.5 738,509.5 740,509.5 742,509.5 744,509.5 746,509.6 748,509.6 750,509.7 752,509.8 754,509.8 756,509.9 758,510.0 760,510.1 762,510.1 764,510.2 766,510.3 768,510.3 770,510.4 772,510.5 774,510.5 776,510.6 778,510.7 780,510.7 782,510.8 784,510.9 786,510.9 788,511.0 790,511.0 792,511.1 794,511.2 796,511.2 798,511.3 800,511.3 802,511.3 804,511.4 806,511.4 808,511.4 810,511.5 812,511.5 814,511.5 816,511.5 818,511.6 820,511.6 822,511.6 824,511.7 826,511.7 828,511.8 830,511.8 832,512.0 834,512.1 836,512.3 838,512.5 840,512.8 842,513.1 844,513.5 846,513.8 848,514.2 850,514.5 852,514.9 854,515.3 856,515.6 858,516.0 860,516.3 862,516.6 864,516.9 866,517.3 868,517.6 870,517.9 872,518.3 874,518.6 876,518.9 878,519.2 880,519.5 882,519.8 884,520.1 886,520.4 888,520.6 890,520.8 892,521.0 894,521.2 896,521.4 898,521.5 900,521.7 902,521.9 904,522.0 906,522.2 908,522.3 910,522.4 912,522.5 914,522.6 916,522.7 918,522.8 920,522.8 922,522.8 924,522.9 926,522.9 928,522.9 930,522.9 932,522.9 934,523.0 936,523.0 938,523.0 940,523.0 942,523.0 944,523.0 946,523.0 948,523.0 950,523.0 952,523.1 954,523.1 956,523.1 958,523.1 L957.5,523.06 Z" fill="#b4b4b4" fill-opacity="0.8" stroke="none"/>
<path d="M276,523.1 278,523.1 280,523.1 282,523.0 284,523.0 286,523.0 288,523.0 290,523.0 292,523.0 294,523.0 296,522.9 298,522.9 300,522.9 302,522.9 304,522.8 306,522.8 308,522.8 310,522.8 312,522.7 314,522.7 316,522.6 318,522.6 320,522.5 322,522.5 324,522.4 326,522.3 328,522.1 330,522.0 332,521.8 334,521.6 336,521.4 338,521.2 340,521.0 342,520.8 344,520.7 346,520.5 348,520.3 350,520.1 352,519.9 354,519.7 356,519.6 358,519.4 360,519.2 362,519.0 364,518.8 366,518.6 368,518.4 370,518.3 372,518.1 374,518.0 376,517.8 378,517.7 380,517.6 382,517.4 384,517.3 386,517.2 388,517.1 390,517.0 392,516.9 394,516.8 396,516.7 398,516.6 400,516.5 402,516.5 404,516.4 406,516.4 408,516.3 410,516.3 412,516.3 414,516.3 416,516.3 418,516.4 420,516.4 422,516.4 424,516.4 426,516.5 428,516.5 430,516.5 432,516.6 434,516.6 436,516.6 438,516.7 440,516.7 442,516.7 444,516.7 446,516.8 448,516.8 450,516.8 452,516.8 454,516.8 456,516.9 458,516.9 460,516.9 462,516.9 464,516.9 466,516.9 468,517.0 470,517.0 472,517.0 474,517.0 476,517.0 478,517.0 480,517.0 482,517.0 484,517.0 486,517.1 488,517.1 490,517.0 492,517.0 494,517.0 496,517.0 498,516.9 500,516.9 502,516.8 504,516.7 506,516.7 508,516.6 510,516.6 512,516.5 514,516.5 516,516.4 518,516.4 520,516.4 522,516.3 524,516.3 526,516.3 528,516.3 530,516.2 532,516.2 534,516.2 536,516.1 538,516.1 540,516.1 542,516.0 544,516.0 546,516.0 548,515.9 550,515.9 552,515.8 554,515.8 556,515.7 558,515.6 560,515.5 562,515.4 564,515.3 566,515.1 568,514.8 570,514.6 572,514.3 574,513.9 576,513.6 578,513.3 580,512.9 582,512.6 584,512.2 586,511.9 588,511.6 590,511.3 592,511.0 594,510.7 596,510.4 598,510.1 600,509.8 602,509.5 604,509.2 606,508.8 608,508.5 610,508.2 612,507.9 614,507.6 616,507.3 618,507.1 620,506.8 622,506.6 624,506.4 626,506.2 628,506.1 630,506.0 632,505.9 634,505.9 636,505.9 638,505.9 640,506.0 642,506.1 644,506.3 646,506.5 648,506.7 650,507.0 652,507.2 654,507.5 656,507.8 658,508.0 660,508.3 662,508.5 664,508.8 666,509.0 668,509.1 670,509.3 672,509.4 674,509.5 676,509.7 678,509.8 680,509.9 682,510.0 684,510.1 686,510.2 688,510.3 690,510.4 692,510.4 694,510.5 696,510.5 698,510.5 700,510.5 702,510.5 704,510.5 706,510.5 708,510.4 710,510.4 712,510.3 714,510.2 716,510.2 718,510.1 720,510.0 722,509.9 724,509.9 726,509.8 728,509.7 730,509.6 732,509.6 734,509.5 736,509.5 738,509.5 740,509.5 742,509.5 744,509.5 746,509.6 748,509.6 750,509.7 752,509.8 754,509.8 756,509.9 758,510.0 760,510.1 762,510.1 764,510.2 766,510.3 768,510.3 770,510.4 772,510.5 774,510.5 776,510.6 778,510.7 780,510.7 782,510.8 784,510.9 786,510.9 788,511.0 790,511.0 792,511.1 794,511.2 796,511.2 798,511.3 800,511.3 802,511.3 804,511.4 806,511.4 808,511.4 810,511.5 812,511.5 814,511.5 816,511.5 818,511.6 820,511.6 822,511.6 824,511.7 826,511.7 828,511.8 830,511.8 832,512.0 834,512.1 836,512.3 838,512.5 840,512.8 842,513.1 844,513.5 846,513.8 848,514.2 850,514.5 852,514.9 854,515.3 856,515.6 858,516.0 860,516.3 862,516.6 864,516.9 866,517.3 868,517.6 870,517.9 872,518.3 874,518.6 876,518.9 878,519.2 880,519.5 882,519.8 884,520.1 886,520.4 888,520.6 890,520.8 892,521.0 894,521.2 896,521.4 898,521.5 900,521.7 902,521.9 904,522.0 906,522.2 908,522.3 910,522.4 912,522.5 914,522.6 916,522.7 918,522.8 920,522.8 922,522.8 924,522.9 926,522.9 928,522.9 930,522.9 932,522.9 934,523.0 936,523.0 938,523.0 940,523.0 942,523.0 944,523.0 946,523.0 948,523.0 950,523.0 952,523.1 954,523.1 956,523.1 958,523.1" fill="none" stroke="#1e1e1e" stroke-width="2.3" stroke-linejoin="round"/>
<path d="M276.0,562.92 L276,562.9 278,562.9 280,562.9 282,562.9 284,562.9 286,562.9 288,562.9 290,562.9 292,562.9 294,562.9 296,562.9 298,562.8 300,562.8 302,562.8 304,562.8 306,562.8 308,562.8 310,562.8 312,562.7 314,562.7 316,562.7 318,562.7 320,562.7 322,562.6 324,562.6 326,562.6 328,562.5 330,562.4 332,562.4 334,562.3 336,562.2 338,562.1 340,562.0 342,562.0 344,561.9 346,561.8 348,561.7 350,561.6 352,561.5 354,561.5 356,561.4 358,561.3 360,561.2 362,561.2 364,561.1 366,561.0 368,560.9 370,560.8 372,560.7 374,560.7 376,560.6 378,560.5 380,560.4 382,560.3 384,560.2 386,560.2 388,560.1 390,560.0 392,559.9 394,559.9 396,559.8 398,559.7 400,559.7 402,559.6 404,559.6 406,559.5 408,559.5 410,559.4 412,559.4 414,559.4 416,559.3 418,559.3 420,559.3 422,559.2 424,559.2 426,559.2 428,559.1 430,559.1 432,559.1 434,559.1 436,559.0 438,559.0 440,559.0 442,559.0 444,559.0 446,558.9 448,558.9 450,558.9 452,558.9 454,558.9 456,558.8 458,558.8 460,558.8 462,558.8 464,558.7 466,558.7 468,558.7 470,558.7 472,558.6 474,558.6 476,558.6 478,558.6 480,558.6 482,558.5 484,558.5 486,558.5 488,558.5 490,558.4 492,558.4 494,558.4 496,558.4 498,558.3 500,558.3 502,558.3 504,558.3 506,558.2 508,558.2 510,558.2 512,558.1 514,558.1 516,558.1 518,558.0 520,558.0 522,557.9 524,557.9 526,557.8 528,557.8 530,557.7 532,557.7 534,557.6 536,557.6 538,557.5 540,557.4 542,557.3 544,557.2 546,557.1 548,557.0 550,556.9 552,556.7 554,556.6 556,556.4 558,556.2 560,556.0 562,555.8 564,555.6 566,555.4 568,555.2 570,554.9 572,554.7 574,554.4 576,554.2 578,553.9 580,553.6 582,553.3 584,553.0 586,552.6 588,552.1 590,551.7 592,551.2 594,550.7 596,550.1 598,549.6 600,549.1 602,548.6 604,548.2 606,547.7 608,547.3 610,546.9 612,546.6 614,546.2 616,545.9 618,545.5 620,545.2 622,544.9 624,544.6 626,544.3 628,544.1 630,543.9 632,543.8 634,543.7 636,543.7 638,543.8 640,543.8 642,543.9 644,544.1 646,544.2 648,544.4 650,544.6 652,544.8 654,545.0 656,545.3 658,545.5 660,545.7 662,545.9 664,546.2 666,546.4 668,546.7 670,547.0 672,547.3 674,547.6 676,547.9 678,548.2 680,548.5 682,548.8 684,549.0 686,549.1 688,549.3 690,549.4 692,549.5 694,549.5 696,549.6 698,549.6 700,549.7 702,549.7 704,549.8 706,549.8 708,549.8 710,549.9 712,549.9 714,549.9 716,549.9 718,549.9 720,549.9 722,549.9 724,549.9 726,549.9 728,549.9 730,549.8 732,549.8 734,549.8 736,549.8 738,549.7 740,549.7 742,549.6 744,549.6 746,549.5 748,549.5 750,549.4 752,549.4 754,549.3 756,549.3 758,549.2 760,549.2 762,549.1 764,549.0 766,548.9 768,548.8 770,548.7 772,548.6 774,548.5 776,548.4 778,548.3 780,548.2 782,548.1 784,547.9 786,547.8 788,547.7 790,547.7 792,547.6 794,547.5 796,547.5 798,547.5 800,547.4 802,547.5 804,547.5 806,547.5 808,547.6 810,547.7 812,547.8 814,547.9 816,548.0 818,548.2 820,548.3 822,548.5 824,548.7 826,548.8 828,549.0 830,549.2 832,549.4 834,549.7 836,550.0 838,550.3 840,550.7 842,551.1 844,551.5 846,551.9 848,552.3 850,552.8 852,553.2 854,553.7 856,554.1 858,554.5 860,554.9 862,555.3 864,555.7 866,556.1 868,556.5 870,556.9 872,557.4 874,557.8 876,558.2 878,558.5 880,558.9 882,559.3 884,559.6 886,559.9 888,560.2 890,560.4 892,560.6 894,560.8 896,561.0 898,561.2 900,561.4 902,561.6 904,561.8 906,562.0 908,562.1 910,562.2 912,562.4 914,562.5 916,562.5 918,562.6 920,562.7 922,562.7 924,562.7 926,562.7 928,562.8 930,562.8 932,562.8 934,562.8 936,562.8 938,562.8 940,562.9 942,562.9 944,562.9 946,562.9 948,562.9 950,562.9 952,562.9 954,562.9 956,562.9 958,562.9 L957.5,562.92 Z" fill="#b4b4b4" fill-opacity="0.8" stroke="none"/>
<path d="M276,562.9 278,562.9 280,562.9 282,562.9 284,562.9 286,562.9 288,562.9 290,562.9 292,562.9 294,562.9 296,562.9 298,562.8 300,562.8 302,562.8 304,562.8 306,562.8 308,562.8 310,562.8 312,562.7 314,562.7 316,562.7 318,562.7 320,562.7 322,562.6 324,562.6 326,562.6 328,562.5 330,562.4 332,562.4 334,562.3 336,562.2 338,562.1 340,562.0 342,562.0 344,561.9 346,561.8 348,561.7 350,561.6 352,561.5 354,561.5 356,561.4 358,561.3 360,561.2 362,561.2 364,561.1 366,561.0 368,560.9 370,560.8 372,560.7 374,560.7 376,560.6 378,560.5 380,560.4 382,560.3 384,560.2 386,560.2 388,560.1 390,560.0 392,559.9 394,559.9 396,559.8 398,559.7 400,559.7 402,559.6 404,559.6 406,559.5 408,559.5 410,559.4 412,559.4 414,559.4 416,559.3 418,559.3 420,559.3 422,559.2 424,559.2 426,559.2 428,559.1 430,559.1 432,559.1 434,559.1 436,559.0 438,559.0 440,559.0 442,559.0 444,559.0 446,558.9 448,558.9 450,558.9 452,558.9 454,558.9 456,558.8 458,558.8 460,558.8 462,558.8 464,558.7 466,558.7 468,558.7 470,558.7 472,558.6 474,558.6 476,558.6 478,558.6 480,558.6 482,558.5 484,558.5 486,558.5 488,558.5 490,558.4 492,558.4 494,558.4 496,558.4 498,558.3 500,558.3 502,558.3 504,558.3 506,558.2 508,558.2 510,558.2 512,558.1 514,558.1 516,558.1 518,558.0 520,558.0 522,557.9 524,557.9 526,557.8 528,557.8 530,557.7 532,557.7 534,557.6 536,557.6 538,557.5 540,557.4 542,557.3 544,557.2 546,557.1 548,557.0 550,556.9 552,556.7 554,556.6 556,556.4 558,556.2 560,556.0 562,555.8 564,555.6 566,555.4 568,555.2 570,554.9 572,554.7 574,554.4 576,554.2 578,553.9 580,553.6 582,553.3 584,553.0 586,552.6 588,552.1 590,551.7 592,551.2 594,550.7 596,550.1 598,549.6 600,549.1 602,548.6 604,548.2 606,547.7 608,547.3 610,546.9 612,546.6 614,546.2 616,545.9 618,545.5 620,545.2 622,544.9 624,544.6 626,544.3 628,544.1 630,543.9 632,543.8 634,543.7 636,543.7 638,543.8 640,543.8 642,543.9 644,544.1 646,544.2 648,544.4 650,544.6 652,544.8 654,545.0 656,545.3 658,545.5 660,545.7 662,545.9 664,546.2 666,546.4 668,546.7 670,547.0 672,547.3 674,547.6 676,547.9 678,548.2 680,548.5 682,548.8 684,549.0 686,549.1 688,549.3 690,549.4 692,549.5 694,549.5 696,549.6 698,549.6 700,549.7 702,549.7 704,549.8 706,549.8 708,549.8 710,549.9 712,549.9 714,549.9 716,549.9 718,549.9 720,549.9 722,549.9 724,549.9 726,549.9 728,549.9 730,549.8 732,549.8 734,549.8 736,549.8 738,549.7 740,549.7 742,549.6 744,549.6 746,549.5 748,549.5 750,549.4 752,549.4 754,549.3 756,549.3 758,549.2 760,549.2 762,549.1 764,549.0 766,548.9 768,548.8 770,548.7 772,548.6 774,548.5 776,548.4 778,548.3 780,548.2 782,548.1 784,547.9 786,547.8 788,547.7 790,547.7 792,547.6 794,547.5 796,547.5 798,547.5 800,547.4 802,547.5 804,547.5 806,547.5 808,547.6 810,547.7 812,547.8 814,547.9 816,548.0 818,548.2 820,548.3 822,548.5 824,548.7 826,548.8 828,549.0 830,549.2 832,549.4 834,549.7 836,550.0 838,550.3 840,550.7 842,551.1 844,551.5 846,551.9 848,552.3 850,552.8 852,553.2 854,553.7 856,554.1 858,554.5 860,554.9 862,555.3 864,555.7 866,556.1 868,556.5 870,556.9 872,557.4 874,557.8 876,558.2 878,558.5 880,558.9 882,559.3 884,559.6 886,559.9 888,560.2 890,560.4 892,560.6 894,560.8 896,561.0 898,561.2 900,561.4 902,561.6 904,561.8 906,562.0 908,562.1 910,562.2 912,562.4 914,562.5 916,562.5 918,562.6 920,562.7 922,562.7 924,562.7 926,562.7 928,562.8 930,562.8 932,562.8 934,562.8 936,562.8 938,562.8 940,562.9 942,562.9 944,562.9 946,562.9 948,562.9 950,562.9 952,562.9 954,562.9 956,562.9 958,562.9" fill="none" stroke="#1e1e1e" stroke-width="2.3" stroke-linejoin="round"/>
<path d="M276.0,602.78 L276,602.8 278,602.8 280,602.8 282,602.8 284,602.8 286,602.8 288,602.8 290,602.7 292,602.7 294,602.7 296,602.7 298,602.7 300,602.7 302,602.7 304,602.7 306,602.7 308,602.6 310,602.6 312,602.6 314,602.6 316,602.6 318,602.5 320,602.5 322,602.5 324,602.5 326,602.4 328,602.4 330,602.3 332,602.3 334,602.2 336,602.2 338,602.1 340,602.1 342,602.0 344,601.9 346,601.8 348,601.8 350,601.7 352,601.6 354,601.6 356,601.5 358,601.4 360,601.3 362,601.2 364,601.1 366,601.0 368,600.9 370,600.8 372,600.7 374,600.6 376,600.5 378,600.4 380,600.3 382,600.2 384,600.1 386,600.0 388,599.9 390,599.8 392,599.7 394,599.7 396,599.6 398,599.6 400,599.5 402,599.5 404,599.5 406,599.5 408,599.4 410,599.4 412,599.4 414,599.4 416,599.4 418,599.4 420,599.3 422,599.3 424,599.3 426,599.3 428,599.3 430,599.3 432,599.3 434,599.3 436,599.3 438,599.3 440,599.3 442,599.4 444,599.4 446,599.5 448,599.5 450,599.6 452,599.6 454,599.7 456,599.8 458,599.8 460,599.9 462,599.9 464,600.0 466,600.0 468,600.0 470,600.0 472,600.0 474,600.0 476,600.0 478,600.0 480,599.9 482,599.9 484,599.8 486,599.8 488,599.7 490,599.6 492,599.6 494,599.5 496,599.4 498,599.3 500,599.2 502,599.1 504,599.1 506,599.0 508,598.9 510,598.8 512,598.7 514,598.6 516,598.4 518,598.3 520,598.1 522,598.0 524,597.8 526,597.6 528,597.5 530,597.3 532,597.1 534,596.9 536,596.7 538,596.5 540,596.3 542,596.1 544,595.8 546,595.6 548,595.3 550,595.1 552,594.8 554,594.6 556,594.3 558,594.0 560,593.8 562,593.5 564,593.2 566,592.9 568,592.5 570,592.2 572,591.8 574,591.5 576,591.1 578,590.7 580,590.4 582,590.1 584,589.7 586,589.4 588,589.2 590,588.9 592,588.7 594,588.6 596,588.4 598,588.4 600,588.3 602,588.3 604,588.4 606,588.4 608,588.5 610,588.6 612,588.7 614,588.8 616,588.9 618,589.0 620,589.2 622,589.3 624,589.4 626,589.6 628,589.7 630,589.9 632,590.0 634,590.1 636,590.2 638,590.3 640,590.4 642,590.4 644,590.5 646,590.5 648,590.5 650,590.4 652,590.3 654,590.2 656,590.0 658,589.9 660,589.6 662,589.4 664,589.1 666,588.9 668,588.6 670,588.3 672,588.0 674,587.6 676,587.2 678,586.8 680,586.3 682,585.8 684,585.2 686,584.6 688,584.1 690,583.5 692,583.0 694,582.5 696,582.0 698,581.7 700,581.3 702,581.0 704,580.7 706,580.5 708,580.2 710,580.0 712,579.8 714,579.6 716,579.4 718,579.3 720,579.3 722,579.2 724,579.3 726,579.4 728,579.5 730,579.7 732,580.0 734,580.3 736,580.6 738,580.9 740,581.3 742,581.6 744,582.0 746,582.4 748,582.8 750,583.2 752,583.6 754,584.1 756,584.6 758,585.2 760,585.8 762,586.3 764,586.9 766,587.4 768,588.0 770,588.4 772,588.9 774,589.3 776,589.7 778,590.0 780,590.4 782,590.7 784,591.0 786,591.3 788,591.6 790,591.8 792,592.1 794,592.3 796,592.5 798,592.6 800,592.8 802,592.9 804,592.9 806,593.0 808,593.1 810,593.1 812,593.2 814,593.3 816,593.3 818,593.4 820,593.5 822,593.6 824,593.7 826,593.9 828,594.0 830,594.2 832,594.4 834,594.6 836,594.8 838,595.0 840,595.2 842,595.4 844,595.6 846,595.8 848,596.1 850,596.3 852,596.5 854,596.7 856,597.0 858,597.2 860,597.5 862,597.8 864,598.0 866,598.3 868,598.6 870,598.8 872,599.1 874,599.3 876,599.6 878,599.8 880,600.0 882,600.2 884,600.5 886,600.7 888,600.9 890,601.1 892,601.3 894,601.5 896,601.7 898,601.9 900,602.0 902,602.2 904,602.3 906,602.4 908,602.5 910,602.5 912,602.5 914,602.6 916,602.6 918,602.6 920,602.6 922,602.6 924,602.7 926,602.7 928,602.7 930,602.7 932,602.7 934,602.7 936,602.7 938,602.7 940,602.7 942,602.8 944,602.8 946,602.8 948,602.8 950,602.8 952,602.8 954,602.8 956,602.8 958,602.8 L957.5,602.78 Z" fill="#b4b4b4" fill-opacity="0.8" stroke="none"/>
<path d="M276,602.8 278,602.8 280,602.8 282,602.8 284,602.8 286,602.8 288,602.8 290,602.7 292,602.7 294,602.7 296,602.7 298,602.7 300,602.7 302,602.7 304,602.7 306,602.7 308,602.6 310,602.6 312,602.6 314,602.6 316,602.6 318,602.5 320,602.5 322,602.5 324,602.5 326,602.4 328,602.4 330,602.3 332,602.3 334,602.2 336,602.2 338,602.1 340,602.1 342,602.0 344,601.9 346,601.8 348,601.8 350,601.7 352,601.6 354,601.6 356,601.5 358,601.4 360,601.3 362,601.2 364,601.1 366,601.0 368,600.9 370,600.8 372,600.7 374,600.6 376,600.5 378,600.4 380,600.3 382,600.2 384,600.1 386,600.0 388,599.9 390,599.8 392,599.7 394,599.7 396,599.6 398,599.6 400,599.5 402,599.5 404,599.5 406,599.5 408,599.4 410,599.4 412,599.4 414,599.4 416,599.4 418,599.4 420,599.3 422,599.3 424,599.3 426,599.3 428,599.3 430,599.3 432,599.3 434,599.3 436,599.3 438,599.3 440,599.3 442,599.4 444,599.4 446,599.5 448,599.5 450,599.6 452,599.6 454,599.7 456,599.8 458,599.8 460,599.9 462,599.9 464,600.0 466,600.0 468,600.0 470,600.0 472,600.0 474,600.0 476,600.0 478,600.0 480,599.9 482,599.9 484,599.8 486,599.8 488,599.7 490,599.6 492,599.6 494,599.5 496,599.4 498,599.3 500,599.2 502,599.1 504,599.1 506,599.0 508,598.9 510,598.8 512,598.7 514,598.6 516,598.4 518,598.3 520,598.1 522,598.0 524,597.8 526,597.6 528,597.5 530,597.3 532,597.1 534,596.9 536,596.7 538,596.5 540,596.3 542,596.1 544,595.8 546,595.6 548,595.3 550,595.1 552,594.8 554,594.6 556,594.3 558,594.0 560,593.8 562,593.5 564,593.2 566,592.9 568,592.5 570,592.2 572,591.8 574,591.5 576,591.1 578,590.7 580,590.4 582,590.1 584,589.7 586,589.4 588,589.2 590,588.9 592,588.7 594,588.6 596,588.4 598,588.4 600,588.3 602,588.3 604,588.4 606,588.4 608,588.5 610,588.6 612,588.7 614,588.8 616,588.9 618,589.0 620,589.2 622,589.3 624,589.4 626,589.6 628,589.7 630,589.9 632,590.0 634,590.1 636,590.2 638,590.3 640,590.4 642,590.4 644,590.5 646,590.5 648,590.5 650,590.4 652,590.3 654,590.2 656,590.0 658,589.9 660,589.6 662,589.4 664,589.1 666,588.9 668,588.6 670,588.3 672,588.0 674,587.6 676,587.2 678,586.8 680,586.3 682,585.8 684,585.2 686,584.6 688,584.1 690,583.5 692,583.0 694,582.5 696,582.0 698,581.7 700,581.3 702,581.0 704,580.7 706,580.5 708,580.2 710,580.0 712,579.8 714,579.6 716,579.4 718,579.3 720,579.3 722,579.2 724,579.3 726,579.4 728,579.5 730,579.7 732,580.0 734,580.3 736,580.6 738,580.9 740,581.3 742,581.6 744,582.0 746,582.4 748,582.8 750,583.2 752,583.6 754,584.1 756,584.6 758,585.2 760,585.8 762,586.3 764,586.9 766,587.4 768,588.0 770,588.4 772,588.9 774,589.3 776,589.7 778,590.0 780,590.4 782,590.7 784,591.0 786,591.3 788,591.6 790,591.8 792,592.1 794,592.3 796,592.5 798,592.6 800,592.8 802,592.9 804,592.9 806,593.0 808,593.1 810,593.1 812,593.2 814,593.3 816,593.3 818,593.4 820,593.5 822,593.6 824,593.7 826,593.9 828,594.0 830,594.2 832,594.4 834,594.6 836,594.8 838,595.0 840,595.2 842,595.4 844,595.6 846,595.8 848,596.1 850,596.3 852,596.5 854,596.7 856,597.0 858,597.2 860,597.5 862,597.8 864,598.0 866,598.3 868,598.6 870,598.8 872,599.1 874,599.3 876,599.6 878,599.8 880,600.0 882,600.2 884,600.5 886,600.7 888,600.9 890,601.1 892,601.3 894,601.5 896,601.7 898,601.9 900,602.0 902,602.2 904,602.3 906,602.4 908,602.5 910,602.5 912,602.5 914,602.6 916,602.6 918,602.6 920,602.6 922,602.6 924,602.7 926,602.7 928,602.7 930,602.7 932,602.7 934,602.7 936,602.7 938,602.7 940,602.7 942,602.8 944,602.8 946,602.8 948,602.8 950,602.8 952,602.8 954,602.8 956,602.8 958,602.8" fill="none" stroke="#1e1e1e" stroke-width="2.3" stroke-linejoin="round"/>
<path d="M276.0,642.64 L276,642.6 278,642.6 280,642.6 282,642.6 284,642.6 286,642.6 288,642.6 290,642.6 292,642.6 294,642.6 296,642.6 298,642.6 300,642.6 302,642.6 304,642.6 306,642.6 308,642.6 310,642.6 312,642.6 314,642.6 316,642.6 318,642.6 320,642.6 322,642.6 324,642.6 326,642.6 328,642.6 330,642.6 332,642.6 334,642.6 336,642.6 338,642.6 340,642.6 342,642.6 344,642.6 346,642.6 348,642.6 350,642.6 352,642.6 354,642.6 356,642.6 358,642.6 360,642.6 362,642.6 364,642.5 366,642.5 368,642.4 370,642.4 372,642.3 374,642.3 376,642.2 378,642.1 380,642.0 382,641.9 384,641.8 386,641.7 388,641.6 390,641.4 392,641.3 394,641.1 396,640.9 398,640.7 400,640.5 402,640.2 404,640.0 406,639.8 408,639.5 410,639.3 412,639.0 414,638.7 416,638.3 418,638.0 420,637.6 422,637.2 424,636.8 426,636.3 428,635.9 430,635.4 432,634.9 434,634.4 436,633.8 438,633.2 440,632.6 442,632.0 444,631.3 446,630.6 448,629.9 450,629.2 452,628.5 454,627.8 456,627.1 458,626.5 460,625.9 462,625.3 464,624.7 466,624.1 468,623.5 470,623.0 472,622.5 474,622.0 476,621.5 478,621.1 480,620.7 482,620.3 484,619.9 486,619.6 488,619.3 490,619.0 492,618.9 494,618.8 496,618.8 498,618.8 500,619.0 502,619.2 504,619.5 506,619.8 508,620.1 510,620.5 512,620.8 514,621.2 516,621.6 518,622.0 520,622.5 522,623.0 524,623.5 526,624.0 528,624.6 530,625.1 532,625.6 534,626.1 536,626.6 538,627.1 540,627.6 542,628.1 544,628.6 546,629.1 548,629.6 550,630.0 552,630.4 554,630.7 556,631.0 558,631.2 560,631.4 562,631.5 564,631.6 566,631.8 568,631.9 570,632.0 572,632.1 574,632.1 576,632.2 578,632.2 580,632.2 582,632.2 584,632.1 586,632.0 588,631.9 590,631.7 592,631.5 594,631.4 596,631.2 598,631.0 600,630.9 602,630.7 604,630.6 606,630.4 608,630.3 610,630.1 612,630.0 614,629.8 616,629.7 618,629.6 620,629.5 622,629.5 624,629.4 626,629.5 628,629.5 630,629.6 632,629.8 634,629.9 636,630.1 638,630.4 640,630.6 642,630.9 644,631.1 646,631.4 648,631.6 650,631.9 652,632.1 654,632.4 656,632.7 658,633.0 660,633.3 662,633.6 664,633.9 666,634.2 668,634.4 670,634.7 672,634.9 674,635.2 676,635.3 678,635.5 680,635.6 682,635.7 684,635.8 686,635.9 688,635.9 690,636.0 692,636.1 694,636.1 696,636.2 698,636.2 700,636.3 702,636.3 704,636.3 706,636.4 708,636.4 710,636.4 712,636.4 714,636.3 716,636.3 718,636.2 720,636.2 722,636.1 724,636.1 726,636.0 728,635.9 730,635.8 732,635.8 734,635.7 736,635.7 738,635.7 740,635.7 742,635.7 744,635.7 746,635.8 748,635.9 750,636.0 752,636.1 754,636.2 756,636.3 758,636.3 760,636.4 762,636.4 764,636.4 766,636.4 768,636.4 770,636.4 772,636.4 774,636.4 776,636.4 778,636.4 780,636.4 782,636.4 784,636.4 786,636.4 788,636.4 790,636.4 792,636.4 794,636.4 796,636.4 798,636.4 800,636.4 802,636.3 804,636.3 806,636.2 808,636.2 810,636.1 812,635.9 814,635.8 816,635.7 818,635.6 820,635.5 822,635.4 824,635.3 826,635.2 828,635.2 830,635.2 832,635.2 834,635.3 836,635.3 838,635.4 840,635.6 842,635.7 844,635.9 846,636.1 848,636.2 850,636.4 852,636.6 854,636.8 856,637.0 858,637.3 860,637.5 862,637.8 864,638.1 866,638.4 868,638.6 870,638.9 872,639.2 874,639.5 876,639.7 878,639.9 880,640.1 882,640.3 884,640.5 886,640.7 888,640.9 890,641.1 892,641.3 894,641.5 896,641.6 898,641.8 900,641.9 902,642.1 904,642.2 906,642.3 908,642.3 910,642.4 912,642.4 914,642.4 916,642.4 918,642.5 920,642.5 922,642.5 924,642.5 926,642.5 928,642.5 930,642.6 932,642.6 934,642.6 936,642.6 938,642.6 940,642.6 942,642.6 944,642.6 946,642.6 948,642.6 950,642.6 952,642.6 954,642.6 956,642.6 958,642.6 L957.5,642.64 Z" fill="#b4b4b4" fill-opacity="0.8" stroke="none"/>
<path d="M276,642.6 278,642.6 280,642.6 282,642.6 284,642.6 286,642.6 288,642.6 290,642.6 292,642.6 294,642.6 296,642.6 298,642.6 300,642.6 302,642.6 304,642.6 306,642.6 308,642.6 310,642.6 312,642.6 314,642.6 316,642.6 318,642.6 320,642.6 322,642.6 324,642.6 326,642.6 328,642.6 330,642.6 332,642.6 334,642.6 336,642.6 338,642.6 340,642.6 342,642.6 344,642.6 346,642.6 348,642.6 350,642.6 352,642.6 354,642.6 356,642.6 358,642.6 360,642.6 362,642.6 364,642.5 366,642.5 368,642.4 370,642.4 372,642.3 374,642.3 376,642.2 378,642.1 380,642.0 382,641.9 384,641.8 386,641.7 388,641.6 390,641.4 392,641.3 394,641.1 396,640.9 398,640.7 400,640.5 402,640.2 404,640.0 406,639.8 408,639.5 410,639.3 412,639.0 414,638.7 416,638.3 418,638.0 420,637.6 422,637.2 424,636.8 426,636.3 428,635.9 430,635.4 432,634.9 434,634.4 436,633.8 438,633.2 440,632.6 442,632.0 444,631.3 446,630.6 448,629.9 450,629.2 452,628.5 454,627.8 456,627.1 458,626.5 460,625.9 462,625.3 464,624.7 466,624.1 468,623.5 470,623.0 472,622.5 474,622.0 476,621.5 478,621.1 480,620.7 482,620.3 484,619.9 486,619.6 488,619.3 490,619.0 492,618.9 494,618.8 496,618.8 498,618.8 500,619.0 502,619.2 504,619.5 506,619.8 508,620.1 510,620.5 512,620.8 514,621.2 516,621.6 518,622.0 520,622.5 522,623.0 524,623.5 526,624.0 528,624.6 530,625.1 532,625.6 534,626.1 536,626.6 538,627.1 540,627.6 542,628.1 544,628.6 546,629.1 548,629.6 550,630.0 552,630.4 554,630.7 556,631.0 558,631.2 560,631.4 562,631.5 564,631.6 566,631.8 568,631.9 570,632.0 572,632.1 574,632.1 576,632.2 578,632.2 580,632.2 582,632.2 584,632.1 586,632.0 588,631.9 590,631.7 592,631.5 594,631.4 596,631.2 598,631.0 600,630.9 602,630.7 604,630.6 606,630.4 608,630.3 610,630.1 612,630.0 614,629.8 616,629.7 618,629.6 620,629.5 622,629.5 624,629.4 626,629.5 628,629.5 630,629.6 632,629.8 634,629.9 636,630.1 638,630.4 640,630.6 642,630.9 644,631.1 646,631.4 648,631.6 650,631.9 652,632.1 654,632.4 656,632.7 658,633.0 660,633.3 662,633.6 664,633.9 666,634.2 668,634.4 670,634.7 672,634.9 674,635.2 676,635.3 678,635.5 680,635.6 682,635.7 684,635.8 686,635.9 688,635.9 690,636.0 692,636.1 694,636.1 696,636.2 698,636.2 700,636.3 702,636.3 704,636.3 706,636.4 708,636.4 710,636.4 712,636.4 714,636.3 716,636.3 718,636.2 720,636.2 722,636.1 724,636.1 726,636.0 728,635.9 730,635.8 732,635.8 734,635.7 736,635.7 738,635.7 740,635.7 742,635.7 744,635.7 746,635.8 748,635.9 750,636.0 752,636.1 754,636.2 756,636.3 758,636.3 760,636.4 762,636.4 764,636.4 766,636.4 768,636.4 770,636.4 772,636.4 774,636.4 776,636.4 778,636.4 780,636.4 782,636.4 784,636.4 786,636.4 788,636.4 790,636.4 792,636.4 794,636.4 796,636.4 798,636.4 800,636.4 802,636.3 804,636.3 806,636.2 808,636.2 810,636.1 812,635.9 814,635.8 816,635.7 818,635.6 820,635.5 822,635.4 824,635.3 826,635.2 828,635.2 830,635.2 832,635.2 834,635.3 836,635.3 838,635.4 840,635.6 842,635.7 844,635.9 846,636.1 848,636.2 850,636.4 852,636.6 854,636.8 856,637.0 858,637.3 860,637.5 862,637.8 864,638.1 866,638.4 868,638.6 870,638.9 872,639.2 874,639.5 876,639.7 878,639.9 880,640.1 882,640.3 884,640.5 886,640.7 888,640.9 890,641.1 892,641.3 894,641.5 896,641.6 898,641.8 900,641.9 902,642.1 904,642.2 906,642.3 908,642.3 910,642.4 912,642.4 914,642.4 916,642.4 918,642.5 920,642.5 922,642.5 924,642.5 926,642.5 928,642.5 930,642.6 932,642.6 934,642.6 936,642.6 938,642.6 940,642.6 942,642.6 944,642.6 946,642.6 948,642.6 950,642.6 952,642.6 954,642.6 956,642.6 958,642.6" fill="none" stroke="#1e1e1e" stroke-width="2.3" stroke-linejoin="round"/>
<path d="M276.0,682.50 L276,682.5 278,682.5 280,682.5 282,682.5 284,682.5 286,682.5 288,682.5 290,682.5 292,682.5 294,682.5 296,682.5 298,682.5 300,682.5 302,682.5 304,682.5 306,682.5 308,682.5 310,682.5 312,682.5 314,682.5 316,682.5 318,682.4 320,682.4 322,682.4 324,682.3 326,682.3 328,682.2 330,682.2 332,682.1 334,682.0 336,681.9 338,681.7 340,681.6 342,681.4 344,681.2 346,680.9 348,680.7 350,680.4 352,680.2 354,679.9 356,679.6 358,679.3 360,679.0 362,678.6 364,678.2 366,677.8 368,677.4 370,676.9 372,676.4 374,675.9 376,675.4 378,674.8 380,674.3 382,673.7 384,673.0 386,672.3 388,671.6 390,670.9 392,670.1 394,669.3 396,668.5 398,667.6 400,666.8 402,666.0 404,665.2 406,664.4 408,663.6 410,662.7 412,661.9 414,661.1 416,660.3 418,659.5 420,658.8 422,658.1 424,657.5 426,656.9 428,656.2 430,655.7 432,655.2 434,654.8 436,654.6 438,654.4 440,654.4 442,654.4 444,654.5 446,654.7 448,654.9 450,655.1 452,655.4 454,655.8 456,656.2 458,656.6 460,657.1 462,657.5 464,657.9 466,658.3 468,658.6 470,659.0 472,659.4 474,659.8 476,660.2 478,660.6 480,661.0 482,661.4 484,661.9 486,662.3 488,662.8 490,663.2 492,663.7 494,664.1 496,664.6 498,665.1 500,665.5 502,666.0 504,666.5 506,666.9 508,667.4 510,667.8 512,668.3 514,668.7 516,669.2 518,669.6 520,670.0 522,670.5 524,670.9 526,671.3 528,671.7 530,672.1 532,672.5 534,672.8 536,673.1 538,673.4 540,673.7 542,673.9 544,674.1 546,674.3 548,674.5 550,674.7 552,674.9 554,675.1 556,675.3 558,675.4 560,675.6 562,675.7 564,675.8 566,676.0 568,676.0 570,676.1 572,676.1 574,676.2 576,676.1 578,676.1 580,676.0 582,675.8 584,675.6 586,675.4 588,675.2 590,674.9 592,674.7 594,674.4 596,674.2 598,674.0 600,673.8 602,673.6 604,673.4 606,673.2 608,673.0 610,672.8 612,672.7 614,672.5 616,672.4 618,672.2 620,672.2 622,672.1 624,672.0 626,672.0 628,672.1 630,672.1 632,672.2 634,672.3 636,672.4 638,672.6 640,672.7 642,672.9 644,673.0 646,673.2 648,673.3 650,673.5 652,673.7 654,673.9 656,674.2 658,674.5 660,674.8 662,675.1 664,675.4 666,675.7 668,676.0 670,676.2 672,676.5 674,676.7 676,676.8 678,676.9 680,676.9 682,676.9 684,676.9 686,676.8 688,676.8 690,676.7 692,676.6 694,676.4 696,676.3 698,676.2 700,676.1 702,676.0 704,675.9 706,675.8 708,675.8 710,675.8 712,675.8 714,675.8 716,675.8 718,675.9 720,676.0 722,676.0 724,676.1 726,676.2 728,676.3 730,676.4 732,676.5 734,676.7 736,676.8 738,676.9 740,677.0 742,677.1 744,677.3 746,677.5 748,677.6 750,677.8 752,678.0 754,678.2 756,678.5 758,678.6 760,678.8 762,679.0 764,679.2 766,679.3 768,679.4 770,679.5 772,679.5 774,679.6 776,679.7 778,679.7 780,679.7 782,679.8 784,679.8 786,679.9 788,679.9 790,679.9 792,680.0 794,680.0 796,680.0 798,680.0 800,680.0 802,680.0 804,680.0 806,680.0 808,680.0 810,680.0 812,680.0 814,680.0 816,680.0 818,680.0 820,680.0 822,680.0 824,680.0 826,680.0 828,680.0 830,680.0 832,680.0 834,680.0 836,680.0 838,680.1 840,680.1 842,680.1 844,680.1 846,680.2 848,680.2 850,680.3 852,680.3 854,680.4 856,680.4 858,680.5 860,680.5 862,680.6 864,680.6 866,680.7 868,680.7 870,680.8 872,680.8 874,680.9 876,680.9 878,681.0 880,681.1 882,681.1 884,681.2 886,681.3 888,681.3 890,681.4 892,681.5 894,681.6 896,681.6 898,681.7 900,681.8 902,681.8 904,681.9 906,681.9 908,682.0 910,682.0 912,682.0 914,682.1 916,682.1 918,682.1 920,682.2 922,682.2 924,682.2 926,682.2 928,682.3 930,682.3 932,682.3 934,682.3 936,682.4 938,682.4 940,682.4 942,682.4 944,682.4 946,682.5 948,682.5 950,682.5 952,682.5 954,682.5 956,682.5 958,682.5 L957.5,682.50 Z" fill="#b4b4b4" fill-opacity="0.8" stroke="none"/>
<path d="M276,682.5 278,682.5 280,682.5 282,682.5 284,682.5 286,682.5 288,682.5 290,682.5 292,682.5 294,682.5 296,682.5 298,682.5 300,682.5 302,682.5 304,682.5 306,682.5 308,682.5 310,682.5 312,682.5 314,682.5 316,682.5 318,682.4 320,682.4 322,682.4 324,682.3 326,682.3 328,682.2 330,682.2 332,682.1 334,682.0 336,681.9 338,681.7 340,681.6 342,681.4 344,681.2 346,680.9 348,680.7 350,680.4 352,680.2 354,679.9 356,679.6 358,679.3 360,679.0 362,678.6 364,678.2 366,677.8 368,677.4 370,676.9 372,676.4 374,675.9 376,675.4 378,674.8 380,674.3 382,673.7 384,673.0 386,672.3 388,671.6 390,670.9 392,670.1 394,669.3 396,668.5 398,667.6 400,666.8 402,666.0 404,665.2 406,664.4 408,663.6 410,662.7 412,661.9 414,661.1 416,660.3 418,659.5 420,658.8 422,658.1 424,657.5 426,656.9 428,656.2 430,655.7 432,655.2 434,654.8 436,654.6 438,654.4 440,654.4 442,654.4 444,654.5 446,654.7 448,654.9 450,655.1 452,655.4 454,655.8 456,656.2 458,656.6 460,657.1 462,657.5 464,657.9 466,658.3 468,658.6 470,659.0 472,659.4 474,659.8 476,660.2 478,660.6 480,661.0 482,661.4 484,661.9 486,662.3 488,662.8 490,663.2 492,663.7 494,664.1 496,664.6 498,665.1 500,665.5 502,666.0 504,666.5 506,666.9 508,667.4 510,667.8 512,668.3 514,668.7 516,669.2 518,669.6 520,670.0 522,670.5 524,670.9 526,671.3 528,671.7 530,672.1 532,672.5 534,672.8 536,673.1 538,673.4 540,673.7 542,673.9 544,674.1 546,674.3 548,674.5 550,674.7 552,674.9 554,675.1 556,675.3 558,675.4 560,675.6 562,675.7 564,675.8 566,676.0 568,676.0 570,676.1 572,676.1 574,676.2 576,676.1 578,676.1 580,676.0 582,675.8 584,675.6 586,675.4 588,675.2 590,674.9 592,674.7 594,674.4 596,674.2 598,674.0 600,673.8 602,673.6 604,673.4 606,673.2 608,673.0 610,672.8 612,672.7 614,672.5 616,672.4 618,672.2 620,672.2 622,672.1 624,672.0 626,672.0 628,672.1 630,672.1 632,672.2 634,672.3 636,672.4 638,672.6 640,672.7 642,672.9 644,673.0 646,673.2 648,673.3 650,673.5 652,673.7 654,673.9 656,674.2 658,674.5 660,674.8 662,675.1 664,675.4 666,675.7 668,676.0 670,676.2 672,676.5 674,676.7 676,676.8 678,676.9 680,676.9 682,676.9 684,676.9 686,676.8 688,676.8 690,676.7 692,676.6 694,676.4 696,676.3 698,676.2 700,676.1 702,676.0 704,675.9 706,675.8 708,675.8 710,675.8 712,675.8 714,675.8 716,675.8 718,675.9 720,676.0 722,676.0 724,676.1 726,676.2 728,676.3 730,676.4 732,676.5 734,676.7 736,676.8 738,676.9 740,677.0 742,677.1 744,677.3 746,677.5 748,677.6 750,677.8 752,678.0 754,678.2 756,678.5 758,678.6 760,678.8 762,679.0 764,679.2 766,679.3 768,679.4 770,679.5 772,679.5 774,679.6 776,679.7 778,679.7 780,679.7 782,679.8 784,679.8 786,679.9 788,679.9 790,679.9 792,680.0 794,680.0 796,680.0 798,680.0 800,680.0 802,680.0 804,680.0 806,680.0 808,680.0 810,680.0 812,680.0 814,680.0 816,680.0 818,680.0 820,680.0 822,680.0 824,680.0 826,680.0 828,680.0 830,680.0 832,680.0 834,680.0 836,680.0 838,680.1 840,680.1 842,680.1 844,680.1 846,680.2 848,680.2 850,680.3 852,680.3 854,680.4 856,680.4 858,680.5 860,680.5 862,680.6 864,680.6 866,680.7 868,680.7 870,680.8 872,680.8 874,680.9 876,680.9 878,681.0 880,681.1 882,681.1 884,681.2 886,681.3 888,681.3 890,681.4 892,681.5 894,681.6 896,681.6 898,681.7 900,681.8 902,681.8 904,681.9 906,681.9 908,682.0 910,682.0 912,682.0 914,682.1 916,682.1 918,682.1 920,682.2 922,682.2 924,682.2 926,682.2 928,682.3 930,682.3 932,682.3 934,682.3 936,682.4 938,682.4 940,682.4 942,682.4 944,682.4 946,682.5 948,682.5 950,682.5 952,682.5 954,682.5 956,682.5 958,682.5" fill="none" stroke="#1e1e1e" stroke-width="2.3" stroke-linejoin="round"/>
<path d="M276.0,722.36 L276,722.4 278,722.4 280,722.3 282,722.3 284,722.3 286,722.3 288,722.3 290,722.3 292,722.3 294,722.3 296,722.3 298,722.3 300,722.3 302,722.2 304,722.2 306,722.2 308,722.2 310,722.2 312,722.2 314,722.2 316,722.2 318,722.1 320,722.1 322,722.1 324,722.1 326,722.1 328,722.1 330,722.1 332,722.0 334,722.0 336,722.0 338,722.0 340,722.0 342,722.0 344,721.9 346,721.9 348,721.9 350,721.9 352,721.9 354,721.9 356,721.8 358,721.8 360,721.8 362,721.8 364,721.8 366,721.7 368,721.7 370,721.7 372,721.6 374,721.6 376,721.6 378,721.6 380,721.5 382,721.5 384,721.5 386,721.5 388,721.4 390,721.4 392,721.4 394,721.4 396,721.4 398,721.4 400,721.4 402,721.4 404,721.4 406,721.4 408,721.4 410,721.4 412,721.4 414,721.4 416,721.4 418,721.4 420,721.4 422,721.4 424,721.4 426,721.4 428,721.4 430,721.4 432,721.4 434,721.4 436,721.4 438,721.3 440,721.3 442,721.3 444,721.3 446,721.2 448,721.2 450,721.2 452,721.1 454,721.1 456,721.0 458,720.9 460,720.9 462,720.8 464,720.7 466,720.6 468,720.6 470,720.5 472,720.4 474,720.3 476,720.2 478,720.1 480,720.1 482,720.0 484,719.8 486,719.7 488,719.6 490,719.4 492,719.3 494,719.1 496,719.0 498,718.8 500,718.6 502,718.4 504,718.2 506,718.0 508,717.8 510,717.7 512,717.5 514,717.3 516,717.0 518,716.8 520,716.6 522,716.4 524,716.2 526,715.9 528,715.7 530,715.4 532,715.2 534,714.9 536,714.7 538,714.4 540,714.2 542,713.9 544,713.6 546,713.3 548,713.0 550,712.7 552,712.4 554,712.1 556,711.8 558,711.5 560,711.3 562,711.0 564,710.7 566,710.5 568,710.3 570,710.0 572,709.8 574,709.6 576,709.3 578,709.1 580,708.9 582,708.7 584,708.5 586,708.3 588,708.1 590,707.9 592,707.6 594,707.4 596,707.2 598,706.9 600,706.7 602,706.4 604,706.2 606,706.0 608,705.8 610,705.6 612,705.4 614,705.3 616,705.2 618,705.1 620,705.1 622,705.1 624,705.1 626,705.2 628,705.3 630,705.4 632,705.5 634,705.6 636,705.7 638,705.8 640,706.0 642,706.1 644,706.3 646,706.5 648,706.7 650,706.9 652,707.1 654,707.4 656,707.7 658,708.0 660,708.3 662,708.6 664,708.9 666,709.2 668,709.4 670,709.6 672,709.8 674,710.0 676,710.2 678,710.4 680,710.6 682,710.7 684,710.8 686,710.9 688,711.0 690,711.0 692,711.0 694,710.9 696,710.8 698,710.6 700,710.5 702,710.3 704,710.1 706,709.8 708,709.6 710,709.3 712,709.0 714,708.7 716,708.3 718,708.0 720,707.6 722,707.2 724,706.8 726,706.4 728,706.2 730,705.9 732,705.7 734,705.5 736,705.3 738,705.2 740,705.0 742,704.9 744,704.7 746,704.6 748,704.4 750,704.3 752,704.2 754,704.1 756,704.0 758,704.0 760,703.9 762,703.9 764,703.9 766,703.9 768,703.9 770,703.9 772,704.0 774,704.0 776,704.1 778,704.2 780,704.3 782,704.3 784,704.4 786,704.6 788,704.7 790,704.8 792,704.9 794,705.1 796,705.2 798,705.4 800,705.6 802,705.8 804,706.1 806,706.4 808,706.7 810,707.0 812,707.4 814,707.7 816,708.1 818,708.4 820,708.8 822,709.1 824,709.4 826,709.8 828,710.1 830,710.4 832,710.8 834,711.1 836,711.4 838,711.8 840,712.1 842,712.5 844,712.8 846,713.2 848,713.5 850,713.9 852,714.2 854,714.6 856,715.0 858,715.3 860,715.7 862,716.1 864,716.5 866,716.9 868,717.2 870,717.6 872,717.9 874,718.2 876,718.5 878,718.8 880,719.1 882,719.4 884,719.7 886,719.9 888,720.2 890,720.5 892,720.7 894,720.9 896,721.1 898,721.2 900,721.3 902,721.4 904,721.5 906,721.6 908,721.7 910,721.8 912,721.9 914,721.9 916,722.0 918,722.1 920,722.1 922,722.2 924,722.2 926,722.3 928,722.3 930,722.3 932,722.3 934,722.4 936,722.4 938,722.4 940,722.4 942,722.4 944,722.4 946,722.4 948,722.4 950,722.4 952,722.4 954,722.4 956,722.4 958,722.4 L957.5,722.36 Z" fill="#b4b4b4" fill-opacity="0.8" stroke="none"/>
<path d="M276,722.4 278,722.4 280,722.3 282,722.3 284,722.3 286,722.3 288,722.3 290,722.3 292,722.3 294,722.3 296,722.3 298,722.3 300,722.3 302,722.2 304,722.2 306,722.2 308,722.2 310,722.2 312,722.2 314,722.2 316,722.2 318,722.1 320,722.1 322,722.1 324,722.1 326,722.1 328,722.1 330,722.1 332,722.0 334,722.0 336,722.0 338,722.0 340,722.0 342,722.0 344,721.9 346,721.9 348,721.9 350,721.9 352,721.9 354,721.9 356,721.8 358,721.8 360,721.8 362,721.8 364,721.8 366,721.7 368,721.7 370,721.7 372,721.6 374,721.6 376,721.6 378,721.6 380,721.5 382,721.5 384,721.5 386,721.5 388,721.4 390,721.4 392,721.4 394,721.4 396,721.4 398,721.4 400,721.4 402,721.4 404,721.4 406,721.4 408,721.4 410,721.4 412,721.4 414,721.4 416,721.4 418,721.4 420,721.4 422,721.4 424,721.4 426,721.4 428,721.4 430,721.4 432,721.4 434,721.4 436,721.4 438,721.3 440,721.3 442,721.3 444,721.3 446,721.2 448,721.2 450,721.2 452,721.1 454,721.1 456,721.0 458,720.9 460,720.9 462,720.8 464,720.7 466,720.6 468,720.6 470,720.5 472,720.4 474,720.3 476,720.2 478,720.1 480,720.1 482,720.0 484,719.8 486,719.7 488,719.6 490,719.4 492,719.3 494,719.1 496,719.0 498,718.8 500,718.6 502,718.4 504,718.2 506,718.0 508,717.8 510,717.7 512,717.5 514,717.3 516,717.0 518,716.8 520,716.6 522,716.4 524,716.2 526,715.9 528,715.7 530,715.4 532,715.2 534,714.9 536,714.7 538,714.4 540,714.2 542,713.9 544,713.6 546,713.3 548,713.0 550,712.7 552,712.4 554,712.1 556,711.8 558,711.5 560,711.3 562,711.0 564,710.7 566,710.5 568,710.3 570,710.0 572,709.8 574,709.6 576,709.3 578,709.1 580,708.9 582,708.7 584,708.5 586,708.3 588,708.1 590,707.9 592,707.6 594,707.4 596,707.2 598,706.9 600,706.7 602,706.4 604,706.2 606,706.0 608,705.8 610,705.6 612,705.4 614,705.3 616,705.2 618,705.1 620,705.1 622,705.1 624,705.1 626,705.2 628,705.3 630,705.4 632,705.5 634,705.6 636,705.7 638,705.8 640,706.0 642,706.1 644,706.3 646,706.5 648,706.7 650,706.9 652,707.1 654,707.4 656,707.7 658,708.0 660,708.3 662,708.6 664,708.9 666,709.2 668,709.4 670,709.6 672,709.8 674,710.0 676,710.2 678,710.4 680,710.6 682,710.7 684,710.8 686,710.9 688,711.0 690,711.0 692,711.0 694,710.9 696,710.8 698,710.6 700,710.5 702,710.3 704,710.1 706,709.8 708,709.6 710,709.3 712,709.0 714,708.7 716,708.3 718,708.0 720,707.6 722,707.2 724,706.8 726,706.4 728,706.2 730,705.9 732,705.7 734,705.5 736,705.3 738,705.2 740,705.0 742,704.9 744,704.7 746,704.6 748,704.4 750,704.3 752,704.2 754,704.1 756,704.0 758,704.0 760,703.9 762,703.9 764,703.9 766,703.9 768,703.9 770,703.9 772,704.0 774,704.0 776,704.1 778,704.2 780,704.3 782,704.3 784,704.4 786,704.6 788,704.7 790,704.8 792,704.9 794,705.1 796,705.2 798,705.4 800,705.6 802,705.8 804,706.1 806,706.4 808,706.7 810,707.0 812,707.4 814,707.7 816,708.1 818,708.4 820,708.8 822,709.1 824,709.4 826,709.8 828,710.1 830,710.4 832,710.8 834,711.1 836,711.4 838,711.8 840,712.1 842,712.5 844,712.8 846,713.2 848,713.5 850,713.9 852,714.2 854,714.6 856,715.0 858,715.3 860,715.7 862,716.1 864,716.5 866,716.9 868,717.2 870,717.6 872,717.9 874,718.2 876,718.5 878,718.8 880,719.1 882,719.4 884,719.7 886,719.9 888,720.2 890,720.5 892,720.7 894,720.9 896,721.1 898,721.2 900,721.3 902,721.4 904,721.5 906,721.6 908,721.7 910,721.8 912,721.9 914,721.9 916,722.0 918,722.1 920,722.1 922,722.2 924,722.2 926,722.3 928,722.3 930,722.3 932,722.3 934,722.4 936,722.4 938,722.4 940,722.4 942,722.4 944,722.4 946,722.4 948,722.4 950,722.4 952,722.4 954,722.4 956,722.4 958,722.4" fill="none" stroke="#1e1e1e" stroke-width="2.3" stroke-linejoin="round"/>
<path d="M276.0,762.22 L276,762.2 278,762.2 280,762.2 282,762.2 284,762.2 286,762.2 288,762.2 290,762.2 292,762.2 294,762.2 296,762.2 298,762.2 300,762.2 302,762.2 304,762.2 306,762.2 308,762.2 310,762.2 312,762.2 314,762.2 316,762.2 318,762.2 320,762.2 322,762.2 324,762.2 326,762.2 328,762.2 330,762.2 332,762.2 334,762.2 336,762.2 338,762.2 340,762.2 342,762.2 344,762.2 346,762.2 348,762.2 350,762.2 352,762.2 354,762.2 356,762.2 358,762.2 360,762.2 362,762.2 364,762.2 366,762.2 368,762.2 370,762.2 372,762.2 374,762.2 376,762.2 378,762.2 380,762.2 382,762.2 384,762.2 386,762.2 388,762.2 390,762.2 392,762.2 394,762.2 396,762.2 398,762.2 400,762.2 402,762.2 404,762.2 406,762.2 408,762.2 410,762.2 412,762.2 414,762.2 416,762.2 418,762.2 420,762.2 422,762.2 424,762.2 426,762.2 428,762.2 430,762.2 432,762.2 434,762.2 436,762.2 438,762.2 440,762.2 442,762.2 444,762.2 446,762.2 448,762.2 450,762.2 452,762.2 454,762.2 456,762.2 458,762.2 460,762.2 462,762.2 464,762.2 466,762.2 468,762.2 470,762.2 472,762.2 474,762.2 476,762.2 478,762.2 480,762.2 482,762.2 484,762.2 486,762.2 488,762.2 490,762.2 492,762.2 494,762.2 496,762.2 498,762.2 500,762.2 502,762.2 504,762.2 506,762.2 508,762.2 510,762.2 512,762.2 514,762.2 516,762.2 518,762.2 520,762.2 522,762.2 524,762.2 526,762.2 528,762.2 530,762.2 532,762.2 534,762.2 536,762.2 538,762.2 540,762.2 542,762.2 544,762.2 546,762.2 548,762.2 550,762.2 552,762.2 554,762.2 556,762.2 558,762.2 560,762.2 562,762.2 564,762.2 566,762.2 568,762.2 570,762.2 572,762.2 574,762.2 576,762.2 578,762.2 580,762.2 582,762.2 584,762.2 586,762.2 588,762.2 590,762.2 592,762.2 594,762.2 596,762.2 598,762.2 600,762.2 602,762.2 604,762.2 606,762.2 608,762.2 610,762.2 612,762.2 614,762.2 616,762.2 618,762.2 620,762.2 622,762.2 624,762.2 626,762.2 628,762.2 630,762.2 632,762.2 634,762.2 636,762.2 638,762.2 640,762.2 642,762.2 644,762.2 646,762.2 648,762.2 650,762.2 652,762.2 654,762.2 656,762.2 658,762.2 660,762.2 662,762.2 664,762.2 666,762.2 668,762.2 670,762.2 672,762.2 674,762.2 676,762.2 678,762.2 680,762.2 682,762.2 684,762.2 686,762.2 688,762.1 690,762.1 692,762.0 694,761.9 696,761.9 698,761.8 700,761.7 702,761.6 704,761.5 706,761.3 708,761.2 710,761.0 712,760.7 714,760.5 716,760.3 718,760.0 720,759.7 722,759.4 724,759.1 726,758.7 728,758.3 730,757.8 732,757.3 734,756.7 736,756.1 738,755.4 740,754.6 742,753.7 744,752.7 746,751.5 748,750.3 750,748.9 752,747.4 754,745.9 756,744.3 758,742.5 760,740.7 762,738.7 764,736.6 766,734.5 768,732.3 770,730.1 772,727.8 774,725.4 776,722.9 778,720.5 780,718.1 782,715.9 784,713.9 786,712.1 788,710.4 790,708.9 792,707.5 794,706.3 796,705.1 798,704.2 800,703.4 802,702.7 804,702.2 806,701.8 808,701.7 810,701.9 812,702.3 814,702.9 816,703.6 818,704.4 820,705.4 822,706.5 824,707.9 826,709.4 828,711.1 830,712.9 832,714.8 834,716.8 836,718.8 838,720.9 840,723.0 842,725.2 844,727.5 846,729.7 848,731.9 850,733.9 852,736.0 854,738.0 856,739.9 858,741.8 860,743.6 862,745.3 864,746.9 866,748.3 868,749.7 870,751.0 872,752.1 874,753.2 876,754.2 878,755.1 880,755.9 882,756.5 884,757.1 886,757.6 888,758.1 890,758.6 892,759.0 894,759.3 896,759.7 898,759.9 900,760.2 902,760.4 904,760.6 906,760.8 908,761.0 910,761.2 912,761.3 914,761.5 916,761.6 918,761.7 920,761.8 922,761.9 924,761.9 926,762.0 928,762.0 930,762.0 932,762.1 934,762.1 936,762.1 938,762.1 940,762.1 942,762.2 944,762.2 946,762.2 948,762.2 950,762.2 952,762.2 954,762.2 956,762.2 958,762.2 L957.5,762.22 Z" fill="#b4b4b4" fill-opacity="0.8" stroke="none"/>
<path d="M276,762.2 278,762.2 280,762.2 282,762.2 284,762.2 286,762.2 288,762.2 290,762.2 292,762.2 294,762.2 296,762.2 298,762.2 300,762.2 302,762.2 304,762.2 306,762.2 308,762.2 310,762.2 312,762.2 314,762.2 316,762.2 318,762.2 320,762.2 322,762.2 324,762.2 326,762.2 328,762.2 330,762.2 332,762.2 334,762.2 336,762.2 338,762.2 340,762.2 342,762.2 344,762.2 346,762.2 348,762.2 350,762.2 352,762.2 354,762.2 356,762.2 358,762.2 360,762.2 362,762.2 364,762.2 366,762.2 368,762.2 370,762.2 372,762.2 374,762.2 376,762.2 378,762.2 380,762.2 382,762.2 384,762.2 386,762.2 388,762.2 390,762.2 392,762.2 394,762.2 396,762.2 398,762.2 400,762.2 402,762.2 404,762.2 406,762.2 408,762.2 410,762.2 412,762.2 414,762.2 416,762.2 418,762.2 420,762.2 422,762.2 424,762.2 426,762.2 428,762.2 430,762.2 432,762.2 434,762.2 436,762.2 438,762.2 440,762.2 442,762.2 444,762.2 446,762.2 448,762.2 450,762.2 452,762.2 454,762.2 456,762.2 458,762.2 460,762.2 462,762.2 464,762.2 466,762.2 468,762.2 470,762.2 472,762.2 474,762.2 476,762.2 478,762.2 480,762.2 482,762.2 484,762.2 486,762.2 488,762.2 490,762.2 492,762.2 494,762.2 496,762.2 498,762.2 500,762.2 502,762.2 504,762.2 506,762.2 508,762.2 510,762.2 512,762.2 514,762.2 516,762.2 518,762.2 520,762.2 522,762.2 524,762.2 526,762.2 528,762.2 530,762.2 532,762.2 534,762.2 536,762.2 538,762.2 540,762.2 542,762.2 544,762.2 546,762.2 548,762.2 550,762.2 552,762.2 554,762.2 556,762.2 558,762.2 560,762.2 562,762.2 564,762.2 566,762.2 568,762.2 570,762.2 572,762.2 574,762.2 576,762.2 578,762.2 580,762.2 582,762.2 584,762.2 586,762.2 588,762.2 590,762.2 592,762.2 594,762.2 596,762.2 598,762.2 600,762.2 602,762.2 604,762.2 606,762.2 608,762.2 610,762.2 612,762.2 614,762.2 616,762.2 618,762.2 620,762.2 622,762.2 624,762.2 626,762.2 628,762.2 630,762.2 632,762.2 634,762.2 636,762.2 638,762.2 640,762.2 642,762.2 644,762.2 646,762.2 648,762.2 650,762.2 652,762.2 654,762.2 656,762.2 658,762.2 660,762.2 662,762.2 664,762.2 666,762.2 668,762.2 670,762.2 672,762.2 674,762.2 676,762.2 678,762.2 680,762.2 682,762.2 684,762.2 686,762.2 688,762.1 690,762.1 692,762.0 694,761.9 696,761.9 698,761.8 700,761.7 702,761.6 704,761.5 706,761.3 708,761.2 710,761.0 712,760.7 714,760.5 716,760.3 718,760.0 720,759.7 722,759.4 724,759.1 726,758.7 728,758.3 730,757.8 732,757.3 734,756.7 736,756.1 738,755.4 740,754.6 742,753.7 744,752.7 746,751.5 748,750.3 750,748.9 752,747.4 754,745.9 756,744.3 758,742.5 760,740.7 762,738.7 764,736.6 766,734.5 768,732.3 770,730.1 772,727.8 774,725.4 776,722.9 778,720.5 780,718.1 782,715.9 784,713.9 786,712.1 788,710.4 790,708.9 792,707.5 794,706.3 796,705.1 798,704.2 800,703.4 802,702.7 804,702.2 806,701.8 808,701.7 810,701.9 812,702.3 814,702.9 816,703.6 818,704.4 820,705.4 822,706.5 824,707.9 826,709.4 828,711.1 830,712.9 832,714.8 834,716.8 836,718.8 838,720.9 840,723.0 842,725.2 844,727.5 846,729.7 848,731.9 850,733.9 852,736.0 854,738.0 856,739.9 858,741.8 860,743.6 862,745.3 864,746.9 866,748.3 868,749.7 870,751.0 872,752.1 874,753.2 876,754.2 878,755.1 880,755.9 882,756.5 884,757.1 886,757.6 888,758.1 890,758.6 892,759.0 894,759.3 896,759.7 898,759.9 900,760.2 902,760.4 904,760.6 906,760.8 908,761.0 910,761.2 912,761.3 914,761.5 916,761.6 918,761.7 920,761.8 922,761.9 924,761.9 926,762.0 928,762.0 930,762.0 932,762.1 934,762.1 936,762.1 938,762.1 940,762.1 942,762.2 944,762.2 946,762.2 948,762.2 950,762.2 952,762.2 954,762.2 956,762.2 958,762.2" fill="none" stroke="#1e1e1e" stroke-width="2.3" stroke-linejoin="round"/>
<g font-size="23.7" fill="#4d4d4d"><text x="232.5" y="93.30" text-anchor="end">Biographical record</text><text x="232.5" y="133.16" text-anchor="end">Coronavirus</text><text x="232.5" y="173.02" text-anchor="end">Crime</text><text x="232.5" y="212.88" text-anchor="end">Economy</text><text x="232.5" y="252.74" text-anchor="end">Education</text><text x="232.5" y="292.60" text-anchor="end">Election</text><text x="232.5" y="332.46" text-anchor="end">Environment</text><text x="232.5" y="372.32" text-anchor="end">Foreign policy</text><text x="232.5" y="412.18" text-anchor="end">Guns</text><text x="232.5" y="452.04" text-anchor="end">Health care</text><text x="232.5" y="491.90" text-anchor="end">Immigration</text><text x="232.5" y="531.76" text-anchor="end">Jobs</text><text x="232.5" y="571.62" text-anchor="end">Miscellaneous</text><text x="232.5" y="611.48" text-anchor="end">Russia</text><text x="232.5" y="651.34" text-anchor="end">Taxes</text><text x="232.5" y="691.20" text-anchor="end">Terrorism</text><text x="232.5" y="731.06" text-anchor="end">Trade</text><text x="232.5" y="770.92" text-anchor="end">Ukraine probe</text></g>
<g font-size="20" fill="#4d4d4d"><text x="332.5" y="814" textLength="45" lengthAdjust="spacingAndGlyphs">2017</text><text x="491.1" y="814" textLength="45" lengthAdjust="spacingAndGlyphs">2018</text><text x="649.8" y="814" textLength="45" lengthAdjust="spacingAndGlyphs">2019</text><text x="808.0" y="814" textLength="45" lengthAdjust="spacingAndGlyphs">2020</text></g>
<text x="303" y="34.5" font-size="35.6" fill="#000">President Trump&#39;s Lies Over Time By Topic</text>
<text x="616.5" y="841" font-size="29" fill="#000" text-anchor="middle">Date</text>
<text transform="translate(29.7,420) rotate(-90)" x="0" y="0" font-size="29.8" fill="#000" text-anchor="middle">Topic</text>
</g></svg></body></html>
